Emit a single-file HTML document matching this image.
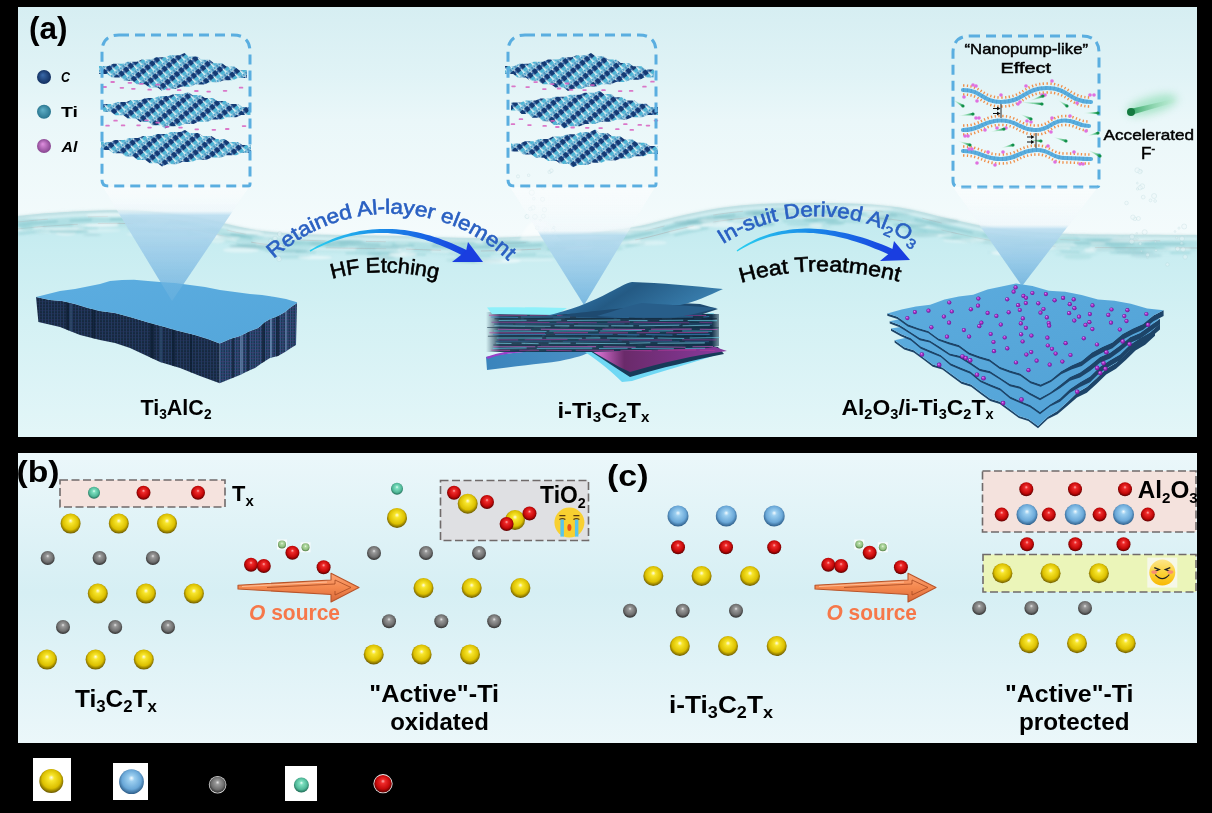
<!DOCTYPE html>
<html><head><meta charset="utf-8"><style>html,body{margin:0;padding:0;background:#000;}svg{display:block;} text{font-family:"Liberation Sans",sans-serif;}</style></head>
<body><svg width="1212" height="813" viewBox="0 0 1212 813">
<defs><radialGradient id="bY" cx="50%" cy="45%" r="55%" fx="50%" fy="35%"><stop offset="0" stop-color="#fffde8"/><stop offset="0.22" stop-color="#f8e62c"/><stop offset="0.7" stop-color="#dcc000"/><stop offset="1" stop-color="#6a5800"/></radialGradient><radialGradient id="bG" cx="50%" cy="45%" r="55%" fx="50%" fy="35%"><stop offset="0" stop-color="#e8e8e8"/><stop offset="0.22" stop-color="#9a9a9a"/><stop offset="0.7" stop-color="#6e6e6e"/><stop offset="1" stop-color="#2e2e2e"/></radialGradient><radialGradient id="bR" cx="50%" cy="45%" r="55%" fx="50%" fy="35%"><stop offset="0" stop-color="#ffb0b0"/><stop offset="0.22" stop-color="#ee2a2a"/><stop offset="0.7" stop-color="#c40808"/><stop offset="1" stop-color="#5a0000"/></radialGradient><radialGradient id="bB" cx="50%" cy="45%" r="55%" fx="50%" fy="35%"><stop offset="0" stop-color="#f4fbff"/><stop offset="0.22" stop-color="#9ccff0"/><stop offset="0.7" stop-color="#6aa8d8"/><stop offset="1" stop-color="#2c5c88"/></radialGradient><radialGradient id="bT" cx="50%" cy="45%" r="55%" fx="50%" fy="35%"><stop offset="0" stop-color="#f0fff8"/><stop offset="0.22" stop-color="#7ee0c0"/><stop offset="0.7" stop-color="#50b898"/><stop offset="1" stop-color="#1e6a54"/></radialGradient><radialGradient id="bL" cx="50%" cy="45%" r="55%" fx="50%" fy="35%"><stop offset="0" stop-color="#f4fff0"/><stop offset="0.22" stop-color="#b8dca8"/><stop offset="0.7" stop-color="#90c080"/><stop offset="1" stop-color="#507a44"/></radialGradient><linearGradient id="skyA" gradientUnits="userSpaceOnUse" x1="0" y1="7" x2="0" y2="235">
<stop offset="0" stop-color="#d6eef2"/><stop offset="0.3" stop-color="#e0f3f6"/><stop offset="0.5" stop-color="#eaf7f9"/><stop offset="1" stop-color="#f4fbfc"/></linearGradient><linearGradient id="seaA" gradientUnits="userSpaceOnUse" x1="0" y1="205" x2="0" y2="437">
<stop offset="0" stop-color="#c0e9ee"/><stop offset="0.2" stop-color="#c9edf1"/><stop offset="0.5" stop-color="#d4f1f4"/><stop offset="1" stop-color="#e3f6f8"/></linearGradient><linearGradient id="bgB" x1="0" y1="0" x2="0" y2="1">
<stop offset="0" stop-color="#ebf7fa"/><stop offset="0.48" stop-color="#d6eff4"/><stop offset="1" stop-color="#ebf7fa"/></linearGradient><linearGradient id="cone" x1="0" y1="0" x2="0" y2="1">
<stop offset="0" stop-color="#ffffff" stop-opacity="0.35"/><stop offset="0.35" stop-color="#e6f2f8" stop-opacity="0.5"/>
<stop offset="0.45" stop-color="#b8dcee" stop-opacity="0.8"/><stop offset="1" stop-color="#7fbde2" stop-opacity="0.95"/></linearGradient><linearGradient id="arrG" x1="0" y1="0" x2="1" y2="0">
<stop offset="0" stop-color="#2ad0f0"/><stop offset="0.45" stop-color="#1a8ae8"/><stop offset="1" stop-color="#1838e0"/></linearGradient><linearGradient id="slabTop" x1="0" y1="0" x2="1" y2="1">
<stop offset="0" stop-color="#5cade0"/><stop offset="1" stop-color="#54a6da"/></linearGradient><pattern id="latt" width="12" height="6" patternUnits="userSpaceOnUse" patternTransform="rotate(50)">
<rect width="12" height="6" fill="#e4f2f6"/><rect x="0" y="0" width="5.6" height="4.6" fill="#143a74"/><rect x="5.2" y="0" width="3.4" height="4.4" fill="#4cb6d6"/>
<rect x="8.6" y="0.6" width="3.4" height="3" fill="#4c96c0"/><rect x="1.5" y="4.4" width="2.2" height="1.6" fill="#2a62a8"/><rect x="9" y="4.4" width="2.5" height="1.6" fill="#3a9ac8"/></pattern><pattern id="slabSide" width="3" height="3" patternUnits="userSpaceOnUse">
<rect width="3" height="3" fill="#16283f"/><rect width="1" height="3" fill="#1f3a5c"/><rect y="1.5" width="3" height="0.6" fill="#2a3460"/></pattern><pattern id="slabSide2" width="2.5" height="3" patternUnits="userSpaceOnUse">
<rect width="2.5" height="3" fill="#1c3452"/><rect width="0.9" height="3" fill="#2e5a84"/><rect y="1.5" width="2.5" height="0.6" fill="#4a3e7a"/></pattern><filter id="blur1" x="-5%" y="-50%" width="110%" height="200%"><feGaussianBlur stdDeviation="1.2"/></filter><filter id="blur2" x="-5%" y="-50%" width="110%" height="200%"><feGaussianBlur stdDeviation="2.5"/></filter><clipPath id="clipA"><rect x="18" y="7" width="1179" height="430"/></clipPath><linearGradient id="cn1" gradientUnits="userSpaceOnUse" x1="0" y1="187" x2="0" y2="301">
<stop offset="0" stop-color="#ffffff" stop-opacity="0.45"/><stop offset="0.208" stop-color="#eef6fa" stop-opacity="0.55"/>
<stop offset="0.248" stop-color="#b9dcef" stop-opacity="0.85"/><stop offset="1" stop-color="#78b8e0" stop-opacity="1"/></linearGradient><linearGradient id="cn2" gradientUnits="userSpaceOnUse" x1="0" y1="187" x2="0" y2="305">
<stop offset="0" stop-color="#ffffff" stop-opacity="0.45"/><stop offset="0.370" stop-color="#eef6fa" stop-opacity="0.55"/>
<stop offset="0.410" stop-color="#b9dcef" stop-opacity="0.85"/><stop offset="1" stop-color="#78b8e0" stop-opacity="1"/></linearGradient><linearGradient id="cn3" gradientUnits="userSpaceOnUse" x1="0" y1="187" x2="0" y2="286">
<stop offset="0" stop-color="#ffffff" stop-opacity="0.45"/><stop offset="0.384" stop-color="#eef6fa" stop-opacity="0.55"/>
<stop offset="0.424" stop-color="#b9dcef" stop-opacity="0.85"/><stop offset="1" stop-color="#78b8e0" stop-opacity="1"/></linearGradient><linearGradient id="cg1" gradientUnits="userSpaceOnUse" x1="952" y1="99" x2="963" y2="106"><stop offset="0" stop-color="#d8f4e0" stop-opacity="0.2"/><stop offset="0.6" stop-color="#70d098" stop-opacity="0.8"/><stop offset="1" stop-color="#129048"/></linearGradient><linearGradient id="cg2" gradientUnits="userSpaceOnUse" x1="958" y1="116" x2="973" y2="114"><stop offset="0" stop-color="#d8f4e0" stop-opacity="0.2"/><stop offset="0.6" stop-color="#70d098" stop-opacity="0.8"/><stop offset="1" stop-color="#129048"/></linearGradient><linearGradient id="cg3" gradientUnits="userSpaceOnUse" x1="1019" y1="102" x2="1042" y2="104"><stop offset="0" stop-color="#d8f4e0" stop-opacity="0.2"/><stop offset="0.6" stop-color="#70d098" stop-opacity="0.8"/><stop offset="1" stop-color="#129048"/></linearGradient><linearGradient id="cg4" gradientUnits="userSpaceOnUse" x1="1029" y1="101" x2="1043" y2="96"><stop offset="0" stop-color="#d8f4e0" stop-opacity="0.2"/><stop offset="0.6" stop-color="#70d098" stop-opacity="0.8"/><stop offset="1" stop-color="#129048"/></linearGradient><linearGradient id="cg5" gradientUnits="userSpaceOnUse" x1="1058" y1="100" x2="1067" y2="106"><stop offset="0" stop-color="#d8f4e0" stop-opacity="0.2"/><stop offset="0.6" stop-color="#70d098" stop-opacity="0.8"/><stop offset="1" stop-color="#129048"/></linearGradient><linearGradient id="cg6" gradientUnits="userSpaceOnUse" x1="1083" y1="113" x2="1098" y2="113"><stop offset="0" stop-color="#d8f4e0" stop-opacity="0.2"/><stop offset="0.6" stop-color="#70d098" stop-opacity="0.8"/><stop offset="1" stop-color="#129048"/></linearGradient><linearGradient id="cg7" gradientUnits="userSpaceOnUse" x1="1020" y1="114" x2="1031" y2="119"><stop offset="0" stop-color="#d8f4e0" stop-opacity="0.2"/><stop offset="0.6" stop-color="#70d098" stop-opacity="0.8"/><stop offset="1" stop-color="#129048"/></linearGradient><linearGradient id="cg8" gradientUnits="userSpaceOnUse" x1="990" y1="132" x2="1004" y2="129"><stop offset="0" stop-color="#d8f4e0" stop-opacity="0.2"/><stop offset="0.6" stop-color="#70d098" stop-opacity="0.8"/><stop offset="1" stop-color="#129048"/></linearGradient><linearGradient id="cg9" gradientUnits="userSpaceOnUse" x1="1053" y1="137" x2="1066" y2="141"><stop offset="0" stop-color="#d8f4e0" stop-opacity="0.2"/><stop offset="0.6" stop-color="#70d098" stop-opacity="0.8"/><stop offset="1" stop-color="#129048"/></linearGradient><linearGradient id="cg10" gradientUnits="userSpaceOnUse" x1="1087" y1="136" x2="1098" y2="133"><stop offset="0" stop-color="#d8f4e0" stop-opacity="0.2"/><stop offset="0.6" stop-color="#70d098" stop-opacity="0.8"/><stop offset="1" stop-color="#129048"/></linearGradient><linearGradient id="cg11" gradientUnits="userSpaceOnUse" x1="1028" y1="140" x2="1041" y2="141"><stop offset="0" stop-color="#d8f4e0" stop-opacity="0.2"/><stop offset="0.6" stop-color="#70d098" stop-opacity="0.8"/><stop offset="1" stop-color="#129048"/></linearGradient><linearGradient id="cg12" gradientUnits="userSpaceOnUse" x1="958" y1="141" x2="970" y2="145"><stop offset="0" stop-color="#d8f4e0" stop-opacity="0.2"/><stop offset="0.6" stop-color="#70d098" stop-opacity="0.8"/><stop offset="1" stop-color="#129048"/></linearGradient><linearGradient id="cg13" gradientUnits="userSpaceOnUse" x1="1001" y1="148" x2="1013" y2="145"><stop offset="0" stop-color="#d8f4e0" stop-opacity="0.2"/><stop offset="0.6" stop-color="#70d098" stop-opacity="0.8"/><stop offset="1" stop-color="#129048"/></linearGradient><linearGradient id="cg14" gradientUnits="userSpaceOnUse" x1="1088" y1="150" x2="1100" y2="156"><stop offset="0" stop-color="#d8f4e0" stop-opacity="0.2"/><stop offset="0.6" stop-color="#70d098" stop-opacity="0.8"/><stop offset="1" stop-color="#129048"/></linearGradient><linearGradient id="comG" x1="0" y1="0" x2="1" y2="0">
<stop offset="0" stop-color="#1a9a50"/><stop offset="1" stop-color="#c8f0d8" stop-opacity="0.2"/></linearGradient><filter id="blur3" x="-50%" y="-100%" width="200%" height="300%"><feGaussianBlur stdDeviation="4"/></filter><clipPath id="s1l"><path d="M36,297 L50,300 L62,301 L75,304 L88,308 L100,311 L115,313 L130,317 L150,323 L165,327 L175,330 L195,335 L208,339 L219.7,343.5 L219.7,383.2 L200,376 L180,368 L160,362 L145,355 L130,348 L115,343 L100,340 L80,335 L70,331 L60,327 L38.4,322 Z"/></clipPath><clipPath id="s1r"><path d="M219.7,343.5 L230,339 L240,336 L250,331 L258,328 L265,322 L270,319 L278,316 L285,312 L291,307 L297,303 L296,345 L291,348 L285,352 L278,356 L270,358 L262,363 L255,368 L248,371 L240,375 L230,379 L219.7,383.2 Z"/></clipPath><linearGradient id="s2top" x1="0" y1="0" x2="1" y2="0.3"><stop offset="0" stop-color="#3a8cc8"/><stop offset="0.5" stop-color="#245a84"/><stop offset="1" stop-color="#3a80b0"/></linearGradient>
<linearGradient id="s2mag" x1="0" y1="0" x2="1" y2="0"><stop offset="0" stop-color="#f484ec"/><stop offset="0.25" stop-color="#6a2a6a"/><stop offset="1" stop-color="#8a3aa0"/></linearGradient>
<linearGradient id="s2bl" x1="0" y1="0" x2="1" y2="0"><stop offset="0" stop-color="#3a84bc"/><stop offset="1" stop-color="#4a90c4"/></linearGradient><linearGradient id="s2st" x1="0" y1="0" x2="1" y2="0"><stop offset="0" stop-color="#15334c" stop-opacity="0"/><stop offset="0.06" stop-color="#15334c" stop-opacity="0.9"/><stop offset="0.97" stop-color="#15334c" stop-opacity="1"/><stop offset="1" stop-color="#15334c" stop-opacity="0.5"/></linearGradient><radialGradient id="pd" cx="50%" cy="50%" r="50%" fx="35%" fy="30%"><stop offset="0" stop-color="#f0a0ff"/><stop offset="0.4" stop-color="#b03cd0"/><stop offset="1" stop-color="#6a1090"/></radialGradient>
<linearGradient id="s3top" x1="0" y1="0" x2="1" y2="1"><stop offset="0" stop-color="#5cacde"/><stop offset="1" stop-color="#52a2d6"/></linearGradient><path id="arc1" d="M273.8,258.9 A171.5,171.5 0 0 1 516.3,269.2"/><path id="arc2" d="M722.9,244.2 A174.7,174.7 0 0 1 928.6,256.2"/><path id="arc3" d="M332,279 Q381,265 441,280"/><path id="arc4" d="M741,283 Q818,260 900,282"/><radialGradient id="lgC" cx="50%" cy="50%" r="55%" fx="40%" fy="35%"><stop offset="0" stop-color="#3a6aaa"/><stop offset="1" stop-color="#0e2a5a"/></radialGradient><radialGradient id="lgT" cx="50%" cy="50%" r="55%" fx="40%" fy="35%"><stop offset="0" stop-color="#60b0c8"/><stop offset="1" stop-color="#24708a"/></radialGradient><radialGradient id="lgA" cx="50%" cy="50%" r="55%" fx="40%" fy="35%"><stop offset="0" stop-color="#e090e0"/><stop offset="1" stop-color="#80408a"/></radialGradient><linearGradient id="oarr" x1="0" y1="0" x2="0" y2="1"><stop offset="0" stop-color="#fca478"/><stop offset="0.5" stop-color="#f4884e"/><stop offset="1" stop-color="#d8683a"/></linearGradient><linearGradient id="smg" x1="0" y1="0" x2="0" y2="1"><stop offset="0" stop-color="#fde68a"/><stop offset="0.5" stop-color="#fbd23a"/><stop offset="1" stop-color="#f8b800"/></linearGradient></defs>
<rect width="1212" height="813" fill="#000"/>
<rect x="18" y="7" width="1179" height="430" fill="url(#skyA)"/>
<path d="M18,216 C23.3,215.5 36.3,213.9 50,213 C63.7,212.1 83.3,210.8 100,210.5 C116.7,210.2 133.3,210.2 150,211.5 C166.7,212.8 183.3,215.1 200,218 C216.7,220.9 233.3,226.3 250,229 C266.7,231.7 275.0,232.8 300,234 C325.0,235.2 370.0,235.3 400,236 C430.0,236.7 453.3,238.2 480,238 C506.7,237.8 540.0,236.0 560,235 C580.0,234.0 586.7,233.5 600,232 C613.3,230.5 626.7,228.7 640,226 C653.3,223.3 666.7,219.0 680,216 C693.3,213.0 706.7,210.0 720,208 C733.3,206.0 746.7,204.8 760,204 C773.3,203.2 785.0,203.1 800,203 C815.0,202.9 833.3,202.8 850,203.5 C866.7,204.2 883.3,204.9 900,207.5 C916.7,210.1 933.3,215.4 950,219 C966.7,222.6 983.3,226.7 1000,229 C1016.7,231.3 1033.3,232.1 1050,233 C1066.7,233.9 1075.5,234.2 1100,234.5 C1124.5,234.8 1180.8,234.9 1197,235 L1197,437 L18,437 Z" fill="url(#seaA)"/>
<g clip-path="url(#clipA)"><path d="M18,225 C23.3,224.5 36.3,222.9 50,222 C63.7,221.1 83.3,219.8 100,219.5 C116.7,219.2 133.3,219.2 150,220.5 C166.7,221.8 183.3,224.1 200,227 C216.7,229.9 233.3,235.3 250,238 C266.7,240.7 275.0,241.8 300,243 C325.0,244.2 370.0,244.3 400,245 C430.0,245.7 453.3,247.2 480,247 C506.7,246.8 540.0,245.0 560,244 C580.0,243.0 586.7,242.5 600,241 C613.3,239.5 626.7,237.7 640,235 C653.3,232.3 666.7,228.0 680,225 C693.3,222.0 706.7,219.0 720,217 C733.3,215.0 746.7,213.8 760,213 C773.3,212.2 785.0,212.1 800,212 C815.0,211.9 833.3,211.8 850,212.5 C866.7,213.2 883.3,213.9 900,216.5 C916.7,219.1 933.3,224.4 950,228 C966.7,231.6 983.3,235.7 1000,238 C1016.7,240.3 1033.3,241.1 1050,242 C1066.7,242.9 1075.5,243.2 1100,243.5 C1124.5,243.8 1180.8,243.9 1197,244" fill="none" stroke="#a0d6da" stroke-width="14" opacity="0.5" filter="url(#blur2)"/><path d="M18,217 C23.3,216.5 36.3,214.9 50,214 C63.7,213.1 83.3,211.8 100,211.5 C116.7,211.2 133.3,211.2 150,212.5 C166.7,213.8 183.3,216.1 200,219 C216.7,221.9 233.3,227.3 250,230 C266.7,232.7 275.0,233.8 300,235 C325.0,236.2 370.0,236.3 400,237 C430.0,237.7 453.3,239.2 480,239 C506.7,238.8 540.0,237.0 560,236 C580.0,235.0 586.7,234.5 600,233 C613.3,231.5 626.7,229.7 640,227 C653.3,224.3 666.7,220.0 680,217 C693.3,214.0 706.7,211.0 720,209 C733.3,207.0 746.7,205.8 760,205 C773.3,204.2 785.0,204.1 800,204 C815.0,203.9 833.3,203.8 850,204.5 C866.7,205.2 883.3,205.9 900,208.5 C916.7,211.1 933.3,216.4 950,220 C966.7,223.6 983.3,227.7 1000,230 C1016.7,232.3 1033.3,233.1 1050,234 C1066.7,234.9 1075.5,235.2 1100,235.5 C1124.5,235.8 1180.8,235.9 1197,236" fill="none" stroke="#c4d8da" stroke-width="2" opacity="0.7" filter="url(#blur1)"/><path d="M18,229 C23.3,228.5 36.3,226.9 50,226 C63.7,225.1 83.3,223.8 100,223.5 C116.7,223.2 133.3,223.2 150,224.5 C166.7,225.8 183.3,228.1 200,231 C216.7,233.9 233.3,239.3 250,242 C266.7,244.7 275.0,245.8 300,247 C325.0,248.2 370.0,248.3 400,249 C430.0,249.7 453.3,251.2 480,251 C506.7,250.8 540.0,249.0 560,248 C580.0,247.0 586.7,246.5 600,245 C613.3,243.5 626.7,241.7 640,239 C653.3,236.3 666.7,232.0 680,229 C693.3,226.0 706.7,223.0 720,221 C733.3,219.0 746.7,217.8 760,217 C773.3,216.2 785.0,216.1 800,216 C815.0,215.9 833.3,215.8 850,216.5 C866.7,217.2 883.3,217.9 900,220.5 C916.7,223.1 933.3,228.4 950,232 C966.7,235.6 983.3,239.7 1000,242 C1016.7,244.3 1033.3,245.1 1050,246 C1066.7,246.9 1075.5,247.2 1100,247.5 C1124.5,247.8 1180.8,247.9 1197,248" fill="none" stroke="#a89494" stroke-width="1" opacity="0.35" stroke-dasharray="60 20 35 40"/><path d="M18,220 C23.3,219.5 36.3,217.9 50,217 C63.7,216.1 83.3,214.8 100,214.5 C116.7,214.2 133.3,214.2 150,215.5 C166.7,216.8 183.3,219.1 200,222 C216.7,224.9 233.3,230.3 250,233 C266.7,235.7 275.0,236.8 300,238 C325.0,239.2 370.0,239.3 400,240 C430.0,240.7 453.3,242.2 480,242 C506.7,241.8 540.0,240.0 560,239 C580.0,238.0 586.7,237.5 600,236 C613.3,234.5 626.7,232.7 640,230 C653.3,227.3 666.7,223.0 680,220 C693.3,217.0 706.7,214.0 720,212 C733.3,210.0 746.7,208.8 760,208 C773.3,207.2 785.0,207.1 800,207 C815.0,206.9 833.3,206.8 850,207.5 C866.7,208.2 883.3,208.9 900,211.5 C916.7,214.1 933.3,219.4 950,223 C966.7,226.6 983.3,230.7 1000,233 C1016.7,235.3 1033.3,236.1 1050,237 C1066.7,237.9 1075.5,238.2 1100,238.5 C1124.5,238.8 1180.8,238.9 1197,239" fill="none" stroke="#e8f6f8" stroke-width="2.5" opacity="0.7" filter="url(#blur1)"/><path d="M18,225 C23.3,224.5 36.3,222.9 50,222 C63.7,221.1 83.3,219.8 100,219.5 C116.7,219.2 133.3,219.2 150,220.5 C166.7,221.8 183.3,224.1 200,227 C216.7,229.9 233.3,235.3 250,238 C266.7,240.7 275.0,241.8 300,243 C325.0,244.2 370.0,244.3 400,245 C430.0,245.7 453.3,247.2 480,247 C506.7,246.8 540.0,245.0 560,244 C580.0,243.0 586.7,242.5 600,241 C613.3,239.5 626.7,237.7 640,235 C653.3,232.3 666.7,228.0 680,225 C693.3,222.0 706.7,219.0 720,217 C733.3,215.0 746.7,213.8 760,213 C773.3,212.2 785.0,212.1 800,212 C815.0,211.9 833.3,211.8 850,212.5 C866.7,213.2 883.3,213.9 900,216.5 C916.7,219.1 933.3,224.4 950,228 C966.7,231.6 983.3,235.7 1000,238 C1016.7,240.3 1033.3,241.1 1050,242 C1066.7,242.9 1075.5,243.2 1100,243.5 C1124.5,243.8 1180.8,243.9 1197,244" fill="none" stroke="#7cbfc6" stroke-width="2" opacity="0.55" stroke-dasharray="40 12 22 18 60 10" filter="url(#blur1)"/><path d="M18,230 C23.3,229.5 36.3,227.9 50,227 C63.7,226.1 83.3,224.8 100,224.5 C116.7,224.2 133.3,224.2 150,225.5 C166.7,226.8 183.3,229.1 200,232 C216.7,234.9 233.3,240.3 250,243 C266.7,245.7 275.0,246.8 300,248 C325.0,249.2 370.0,249.3 400,250 C430.0,250.7 453.3,252.2 480,252 C506.7,251.8 540.0,250.0 560,249 C580.0,248.0 586.7,247.5 600,246 C613.3,244.5 626.7,242.7 640,240 C653.3,237.3 666.7,233.0 680,230 C693.3,227.0 706.7,224.0 720,222 C733.3,220.0 746.7,218.8 760,218 C773.3,217.2 785.0,217.1 800,217 C815.0,216.9 833.3,216.8 850,217.5 C866.7,218.2 883.3,218.9 900,221.5 C916.7,224.1 933.3,229.4 950,233 C966.7,236.6 983.3,240.7 1000,243 C1016.7,245.3 1033.3,246.1 1050,247 C1066.7,247.9 1075.5,248.2 1100,248.5 C1124.5,248.8 1180.8,248.9 1197,249" fill="none" stroke="#ffffff" stroke-width="2" opacity="0.5" stroke-dasharray="25 30 45 20" filter="url(#blur1)"/><path d="M18,234 C23.3,233.5 36.3,231.9 50,231 C63.7,230.1 83.3,228.8 100,228.5 C116.7,228.2 133.3,228.2 150,229.5 C166.7,230.8 183.3,233.1 200,236 C216.7,238.9 233.3,244.3 250,247 C266.7,249.7 275.0,250.8 300,252 C325.0,253.2 370.0,253.3 400,254 C430.0,254.7 453.3,256.2 480,256 C506.7,255.8 540.0,254.0 560,253 C580.0,252.0 586.7,251.5 600,250 C613.3,248.5 626.7,246.7 640,244 C653.3,241.3 666.7,237.0 680,234 C693.3,231.0 706.7,228.0 720,226 C733.3,224.0 746.7,222.8 760,222 C773.3,221.2 785.0,221.1 800,221 C815.0,220.9 833.3,220.8 850,221.5 C866.7,222.2 883.3,222.9 900,225.5 C916.7,228.1 933.3,233.4 950,237 C966.7,240.6 983.3,244.7 1000,247 C1016.7,249.3 1033.3,250.1 1050,251 C1066.7,251.9 1075.5,252.2 1100,252.5 C1124.5,252.8 1180.8,252.9 1197,253" fill="none" stroke="#86c8ce" stroke-width="2" opacity="0.45" stroke-dasharray="35 25 20 30" filter="url(#blur1)"/><path d="M18,222 C23.3,221.5 36.3,219.9 50,219 C63.7,218.1 83.3,216.8 100,216.5 C116.7,216.2 133.3,216.2 150,217.5 C166.7,218.8 183.3,221.1 200,224 C216.7,226.9 233.3,232.3 250,235 C266.7,237.7 275.0,238.8 300,240 C325.0,241.2 370.0,241.3 400,242 C430.0,242.7 453.3,244.2 480,244 C506.7,243.8 540.0,242.0 560,241 C580.0,240.0 586.7,239.5 600,238 C613.3,236.5 626.7,234.7 640,232 C653.3,229.3 666.7,225.0 680,222 C693.3,219.0 706.7,216.0 720,214 C733.3,212.0 746.7,210.8 760,210 C773.3,209.2 785.0,209.1 800,209 C815.0,208.9 833.3,208.8 850,209.5 C866.7,210.2 883.3,210.9 900,213.5 C916.7,216.1 933.3,221.4 950,225 C966.7,228.6 983.3,232.7 1000,235 C1016.7,237.3 1033.3,238.1 1050,239 C1066.7,239.9 1075.5,240.2 1100,240.5 C1124.5,240.8 1180.8,240.9 1197,241" fill="none" stroke="#b89a9a" stroke-width="0.8" opacity="0.3" stroke-dasharray="30 40 20 50"/><g filter="url(#blur1)"><ellipse cx="212" cy="238.2" rx="19" ry="1.8" fill="#8fcfd4" opacity="0.60"/><ellipse cx="578" cy="256.9" rx="10" ry="1.8" fill="#7ec2c8" opacity="0.25"/><ellipse cx="1118" cy="246.6" rx="9" ry="2.2" fill="#8fcfd4" opacity="0.49"/><ellipse cx="533" cy="259.9" rx="21" ry="1.7" fill="#ffffff" opacity="0.26"/><ellipse cx="406" cy="249.6" rx="8" ry="2.5" fill="#ffffff" opacity="0.26"/><ellipse cx="892" cy="211.7" rx="22" ry="1.0" fill="#8fcfd4" opacity="0.44"/><ellipse cx="422" cy="249.7" rx="10" ry="1.1" fill="#8fcfd4" opacity="0.28"/><ellipse cx="251" cy="246.2" rx="22" ry="2.1" fill="#6aaab2" opacity="0.35"/><ellipse cx="102" cy="225.3" rx="17" ry="1.6" fill="#ffffff" opacity="0.57"/><ellipse cx="1064" cy="245.0" rx="13" ry="1.7" fill="#ffffff" opacity="0.36"/><ellipse cx="589" cy="241.4" rx="23" ry="1.3" fill="#a8dcdf" opacity="0.60"/><ellipse cx="603" cy="244.9" rx="17" ry="2.2" fill="#8fcfd4" opacity="0.45"/><ellipse cx="394" cy="259.5" rx="8" ry="2.1" fill="#a8dcdf" opacity="0.37"/><ellipse cx="1111" cy="244.8" rx="18" ry="1.5" fill="#7ec2c8" opacity="0.31"/><ellipse cx="1106" cy="241.2" rx="15" ry="1.3" fill="#7ec2c8" opacity="0.49"/><ellipse cx="1078" cy="257.0" rx="14" ry="2.6" fill="#a8dcdf" opacity="0.46"/><ellipse cx="1059" cy="246.6" rx="14" ry="1.4" fill="#8fcfd4" opacity="0.31"/><ellipse cx="100" cy="230.4" rx="21" ry="1.8" fill="#ffffff" opacity="0.27"/><ellipse cx="322" cy="243.5" rx="14" ry="1.3" fill="#7ec2c8" opacity="0.55"/><ellipse cx="779" cy="209.6" rx="9" ry="2.2" fill="#7ec2c8" opacity="0.34"/><ellipse cx="1149" cy="248.8" rx="21" ry="1.0" fill="#8fcfd4" opacity="0.56"/><ellipse cx="449" cy="243.5" rx="13" ry="2.2" fill="#ffffff" opacity="0.45"/><ellipse cx="1019" cy="240.0" rx="17" ry="1.4" fill="#a8dcdf" opacity="0.25"/><ellipse cx="826" cy="226.3" rx="6" ry="1.9" fill="#a8dcdf" opacity="0.34"/><ellipse cx="1145" cy="246.6" rx="20" ry="2.2" fill="#8fcfd4" opacity="0.30"/><ellipse cx="130" cy="216.1" rx="7" ry="1.7" fill="#8fcfd4" opacity="0.28"/><ellipse cx="158" cy="221.5" rx="12" ry="2.5" fill="#ffffff" opacity="0.42"/><ellipse cx="277" cy="238.2" rx="10" ry="1.6" fill="#a8dcdf" opacity="0.51"/><ellipse cx="911" cy="225.6" rx="16" ry="2.2" fill="#7ec2c8" opacity="0.53"/><ellipse cx="27" cy="227.9" rx="7" ry="2.2" fill="#8fcfd4" opacity="0.55"/><ellipse cx="293" cy="256.6" rx="18" ry="2.2" fill="#8fcfd4" opacity="0.39"/><ellipse cx="383" cy="257.6" rx="12" ry="1.8" fill="#6aaab2" opacity="0.25"/><ellipse cx="694" cy="227.7" rx="7" ry="2.0" fill="#ffffff" opacity="0.59"/><ellipse cx="384" cy="253.4" rx="17" ry="1.9" fill="#7ec2c8" opacity="0.47"/><ellipse cx="402" cy="243.3" rx="7" ry="2.1" fill="#ffffff" opacity="0.29"/><ellipse cx="108" cy="215.2" rx="22" ry="2.2" fill="#ffffff" opacity="0.43"/><ellipse cx="1135" cy="252.0" rx="20" ry="1.8" fill="#6aaab2" opacity="0.23"/><ellipse cx="491" cy="245.3" rx="7" ry="1.7" fill="#8fcfd4" opacity="0.35"/><ellipse cx="713" cy="220.9" rx="15" ry="2.3" fill="#ffffff" opacity="0.38"/><ellipse cx="592" cy="248.9" rx="25" ry="1.1" fill="#ffffff" opacity="0.31"/><ellipse cx="458" cy="253.1" rx="10" ry="1.7" fill="#a8dcdf" opacity="0.52"/><ellipse cx="806" cy="224.1" rx="20" ry="2.1" fill="#8fcfd4" opacity="0.42"/><ellipse cx="606" cy="240.5" rx="14" ry="1.8" fill="#a8dcdf" opacity="0.60"/><ellipse cx="26" cy="224.9" rx="12" ry="1.6" fill="#8fcfd4" opacity="0.28"/><ellipse cx="225" cy="237.4" rx="18" ry="1.6" fill="#a8dcdf" opacity="0.41"/><ellipse cx="146" cy="234.5" rx="20" ry="1.3" fill="#ffffff" opacity="0.38"/><ellipse cx="704" cy="218.2" rx="8" ry="1.0" fill="#6aaab2" opacity="0.20"/><ellipse cx="1015" cy="236.4" rx="20" ry="1.3" fill="#6aaab2" opacity="0.29"/><ellipse cx="862" cy="210.8" rx="14" ry="1.6" fill="#ffffff" opacity="0.47"/><ellipse cx="349" cy="241.6" rx="14" ry="1.4" fill="#8fcfd4" opacity="0.59"/><ellipse cx="272" cy="241.5" rx="19" ry="2.4" fill="#ffffff" opacity="0.26"/><ellipse cx="609" cy="234.5" rx="18" ry="2.1" fill="#8fcfd4" opacity="0.60"/><ellipse cx="1128" cy="240.8" rx="25" ry="1.3" fill="#ffffff" opacity="0.56"/><ellipse cx="454" cy="243.2" rx="22" ry="2.3" fill="#6aaab2" opacity="0.32"/><ellipse cx="382" cy="247.4" rx="24" ry="1.4" fill="#6aaab2" opacity="0.31"/><ellipse cx="1012" cy="252.4" rx="24" ry="1.0" fill="#6aaab2" opacity="0.16"/><ellipse cx="532" cy="256.5" rx="26" ry="2.1" fill="#8fcfd4" opacity="0.27"/><ellipse cx="979" cy="240.6" rx="18" ry="1.8" fill="#a8dcdf" opacity="0.37"/><ellipse cx="336" cy="245.1" rx="12" ry="2.0" fill="#7ec2c8" opacity="0.48"/><ellipse cx="238" cy="231.4" rx="23" ry="1.6" fill="#ffffff" opacity="0.27"/><ellipse cx="62" cy="225.8" rx="20" ry="2.0" fill="#8fcfd4" opacity="0.26"/><ellipse cx="292" cy="243.8" rx="11" ry="1.3" fill="#8fcfd4" opacity="0.50"/><ellipse cx="636" cy="231.2" rx="23" ry="1.3" fill="#7ec2c8" opacity="0.50"/><ellipse cx="733" cy="223.0" rx="19" ry="1.0" fill="#ffffff" opacity="0.42"/><ellipse cx="209" cy="240.9" rx="22" ry="2.5" fill="#a8dcdf" opacity="0.27"/><ellipse cx="821" cy="219.8" rx="18" ry="2.0" fill="#7ec2c8" opacity="0.59"/><ellipse cx="478" cy="260.7" rx="25" ry="2.3" fill="#7ec2c8" opacity="0.57"/><ellipse cx="222" cy="231.5" rx="7" ry="1.6" fill="#a8dcdf" opacity="0.31"/><ellipse cx="1115" cy="248.8" rx="24" ry="1.3" fill="#6aaab2" opacity="0.26"/><ellipse cx="932" cy="233.5" rx="24" ry="1.6" fill="#7ec2c8" opacity="0.33"/><ellipse cx="725" cy="217.9" rx="19" ry="2.4" fill="#6aaab2" opacity="0.18"/><ellipse cx="50" cy="224.9" rx="18" ry="1.0" fill="#a8dcdf" opacity="0.51"/><ellipse cx="893" cy="214.4" rx="17" ry="1.6" fill="#6aaab2" opacity="0.21"/><ellipse cx="208" cy="236.6" rx="18" ry="1.7" fill="#ffffff" opacity="0.51"/><ellipse cx="785" cy="211.7" rx="15" ry="1.6" fill="#ffffff" opacity="0.42"/><ellipse cx="66" cy="233.2" rx="10" ry="2.3" fill="#ffffff" opacity="0.46"/><ellipse cx="964" cy="240.4" rx="21" ry="2.6" fill="#ffffff" opacity="0.30"/><ellipse cx="57" cy="232.0" rx="23" ry="1.5" fill="#ffffff" opacity="0.32"/><ellipse cx="286" cy="251.0" rx="22" ry="1.8" fill="#7ec2c8" opacity="0.26"/><ellipse cx="1098" cy="240.2" rx="13" ry="1.6" fill="#6aaab2" opacity="0.28"/><ellipse cx="724" cy="225.2" rx="23" ry="2.2" fill="#ffffff" opacity="0.48"/><ellipse cx="884" cy="218.8" rx="8" ry="2.4" fill="#6aaab2" opacity="0.32"/><ellipse cx="1068" cy="238.2" rx="12" ry="2.0" fill="#8fcfd4" opacity="0.51"/><ellipse cx="1121" cy="239.8" rx="18" ry="2.0" fill="#6aaab2" opacity="0.19"/><ellipse cx="605" cy="249.3" rx="10" ry="2.1" fill="#ffffff" opacity="0.57"/><ellipse cx="634" cy="230.1" rx="23" ry="1.5" fill="#ffffff" opacity="0.49"/><ellipse cx="506" cy="242.6" rx="24" ry="2.0" fill="#7ec2c8" opacity="0.60"/><ellipse cx="292" cy="251.0" rx="16" ry="1.9" fill="#6aaab2" opacity="0.22"/><ellipse cx="768" cy="220.1" rx="13" ry="1.6" fill="#ffffff" opacity="0.47"/><ellipse cx="557" cy="248.9" rx="10" ry="2.3" fill="#7ec2c8" opacity="0.55"/><ellipse cx="1076" cy="254.5" rx="21" ry="2.4" fill="#a8dcdf" opacity="0.28"/><ellipse cx="596" cy="238.8" rx="22" ry="1.5" fill="#ffffff" opacity="0.35"/><ellipse cx="1155" cy="247.4" rx="10" ry="1.0" fill="#8fcfd4" opacity="0.55"/><ellipse cx="279" cy="237.2" rx="17" ry="1.2" fill="#ffffff" opacity="0.29"/><ellipse cx="164" cy="231.0" rx="10" ry="1.0" fill="#8fcfd4" opacity="0.33"/><ellipse cx="688" cy="222.6" rx="15" ry="2.3" fill="#6aaab2" opacity="0.29"/><ellipse cx="976" cy="235.6" rx="25" ry="2.3" fill="#a8dcdf" opacity="0.38"/><ellipse cx="943" cy="221.2" rx="16" ry="2.4" fill="#6aaab2" opacity="0.25"/><ellipse cx="63" cy="228.8" rx="22" ry="1.4" fill="#ffffff" opacity="0.50"/><ellipse cx="644" cy="231.5" rx="13" ry="2.1" fill="#a8dcdf" opacity="0.34"/><ellipse cx="1098" cy="243.6" rx="8" ry="1.9" fill="#ffffff" opacity="0.36"/><ellipse cx="953" cy="238.4" rx="9" ry="1.5" fill="#7ec2c8" opacity="0.34"/><ellipse cx="816" cy="225.2" rx="7" ry="2.2" fill="#ffffff" opacity="0.43"/><ellipse cx="143" cy="234.8" rx="10" ry="2.4" fill="#a8dcdf" opacity="0.32"/><ellipse cx="601" cy="241.3" rx="13" ry="1.3" fill="#7ec2c8" opacity="0.40"/><ellipse cx="254" cy="233.1" rx="10" ry="2.4" fill="#ffffff" opacity="0.25"/><ellipse cx="930" cy="235.2" rx="25" ry="1.4" fill="#ffffff" opacity="0.43"/><ellipse cx="461" cy="246.4" rx="18" ry="2.3" fill="#a8dcdf" opacity="0.38"/><ellipse cx="187" cy="227.0" rx="24" ry="2.0" fill="#ffffff" opacity="0.49"/><ellipse cx="928" cy="231.2" rx="25" ry="2.4" fill="#8fcfd4" opacity="0.50"/><ellipse cx="377" cy="250.3" rx="22" ry="2.3" fill="#a8dcdf" opacity="0.39"/><ellipse cx="756" cy="213.1" rx="11" ry="2.3" fill="#6aaab2" opacity="0.30"/><ellipse cx="290" cy="238.5" rx="6" ry="1.3" fill="#ffffff" opacity="0.59"/><ellipse cx="607" cy="248.7" rx="16" ry="2.6" fill="#a8dcdf" opacity="0.57"/><ellipse cx="467" cy="260.2" rx="21" ry="1.8" fill="#7ec2c8" opacity="0.30"/><ellipse cx="23" cy="220.5" rx="15" ry="2.2" fill="#7ec2c8" opacity="0.28"/><ellipse cx="404" cy="242.8" rx="18" ry="2.0" fill="#a8dcdf" opacity="0.35"/><ellipse cx="922" cy="235.6" rx="17" ry="1.4" fill="#7ec2c8" opacity="0.50"/><ellipse cx="1002" cy="252.8" rx="11" ry="2.0" fill="#ffffff" opacity="0.56"/><ellipse cx="331" cy="244.9" rx="17" ry="2.0" fill="#a8dcdf" opacity="0.37"/><ellipse cx="763" cy="224.1" rx="12" ry="2.3" fill="#7ec2c8" opacity="0.59"/><ellipse cx="69" cy="231.6" rx="20" ry="1.8" fill="#7ec2c8" opacity="0.53"/><ellipse cx="223" cy="238.0" rx="17" ry="2.4" fill="#ffffff" opacity="0.47"/><ellipse cx="217" cy="240.8" rx="8" ry="2.5" fill="#ffffff" opacity="0.39"/><ellipse cx="403" cy="254.3" rx="14" ry="2.3" fill="#ffffff" opacity="0.51"/><ellipse cx="878" cy="213.9" rx="12" ry="1.5" fill="#ffffff" opacity="0.52"/><ellipse cx="241" cy="250.2" rx="18" ry="2.4" fill="#ffffff" opacity="0.41"/><ellipse cx="835" cy="222.8" rx="10" ry="2.0" fill="#7ec2c8" opacity="0.56"/><ellipse cx="1093" cy="239.1" rx="20" ry="1.8" fill="#8fcfd4" opacity="0.54"/><ellipse cx="1090" cy="250.1" rx="6" ry="2.2" fill="#ffffff" opacity="0.43"/><ellipse cx="869" cy="208.1" rx="24" ry="2.4" fill="#ffffff" opacity="0.28"/><ellipse cx="498" cy="261.0" rx="23" ry="2.3" fill="#ffffff" opacity="0.51"/><ellipse cx="238" cy="235.6" rx="21" ry="1.4" fill="#7ec2c8" opacity="0.57"/><ellipse cx="186" cy="238.4" rx="19" ry="1.9" fill="#ffffff" opacity="0.39"/><ellipse cx="896" cy="217.9" rx="16" ry="2.5" fill="#a8dcdf" opacity="0.32"/><ellipse cx="301" cy="244.2" rx="12" ry="2.3" fill="#a8dcdf" opacity="0.44"/><ellipse cx="348" cy="242.0" rx="17" ry="1.5" fill="#6aaab2" opacity="0.30"/><ellipse cx="648" cy="242.8" rx="19" ry="2.5" fill="#ffffff" opacity="0.32"/><ellipse cx="230" cy="238.9" rx="25" ry="1.3" fill="#a8dcdf" opacity="0.31"/><ellipse cx="1000" cy="242.0" rx="18" ry="1.4" fill="#6aaab2" opacity="0.20"/><ellipse cx="1038" cy="248.6" rx="19" ry="1.2" fill="#ffffff" opacity="0.45"/><ellipse cx="92" cy="234.8" rx="9" ry="1.0" fill="#6aaab2" opacity="0.25"/><ellipse cx="959" cy="237.2" rx="19" ry="2.1" fill="#a8dcdf" opacity="0.55"/><ellipse cx="486" cy="253.8" rx="10" ry="1.3" fill="#a8dcdf" opacity="0.35"/><ellipse cx="462" cy="244.7" rx="19" ry="2.6" fill="#a8dcdf" opacity="0.47"/><ellipse cx="1029" cy="244.6" rx="18" ry="2.4" fill="#7ec2c8" opacity="0.48"/><ellipse cx="315" cy="257.5" rx="17" ry="1.8" fill="#ffffff" opacity="0.49"/><ellipse cx="1146" cy="242.7" rx="10" ry="1.5" fill="#8fcfd4" opacity="0.31"/><ellipse cx="703" cy="221.0" rx="17" ry="2.5" fill="#6aaab2" opacity="0.17"/><ellipse cx="1146" cy="255.5" rx="16" ry="2.4" fill="#6aaab2" opacity="0.19"/></g></g>
<rect x="18" y="453" width="1179" height="290" fill="url(#bgB)"/>
<g><circle cx="1131.7" cy="241.6" r="2.5" fill="#eef8fa" stroke="#a8ccd2" stroke-width="0.6" opacity="0.4"/><circle cx="1132.0" cy="236.6" r="2.5" fill="#eef8fa" stroke="#a8ccd2" stroke-width="0.6" opacity="0.4"/><circle cx="1147.7" cy="254.9" r="2.0" fill="#eef8fa" stroke="#a8ccd2" stroke-width="0.6" opacity="0.4"/><circle cx="1141.4" cy="251.1" r="1.0" fill="#eef8fa" stroke="#a8ccd2" stroke-width="0.6" opacity="0.4"/><circle cx="1134.8" cy="218.9" r="1.8" fill="#eef8fa" stroke="#a8ccd2" stroke-width="0.6" opacity="0.4"/><circle cx="1141.0" cy="171.2" r="1.2" fill="#eef8fa" stroke="#a8ccd2" stroke-width="0.6" opacity="0.4"/><circle cx="1137.1" cy="238.9" r="1.1" fill="#eef8fa" stroke="#a8ccd2" stroke-width="0.6" opacity="0.4"/><circle cx="1155.3" cy="241.7" r="1.0" fill="#eef8fa" stroke="#a8ccd2" stroke-width="0.6" opacity="0.4"/><circle cx="1137.3" cy="170.2" r="2.4" fill="#eef8fa" stroke="#a8ccd2" stroke-width="0.6" opacity="0.4"/><circle cx="1137.5" cy="188.9" r="1.2" fill="#eef8fa" stroke="#a8ccd2" stroke-width="0.6" opacity="0.4"/><circle cx="1154.1" cy="196.0" r="2.5" fill="#eef8fa" stroke="#a8ccd2" stroke-width="0.6" opacity="0.4"/><circle cx="1138.4" cy="218.5" r="2.0" fill="#eef8fa" stroke="#a8ccd2" stroke-width="0.6" opacity="0.4"/><circle cx="1144.7" cy="232.2" r="2.5" fill="#eef8fa" stroke="#a8ccd2" stroke-width="0.6" opacity="0.4"/><circle cx="1156.0" cy="250.4" r="1.3" fill="#eef8fa" stroke="#a8ccd2" stroke-width="0.6" opacity="0.4"/><circle cx="1137.3" cy="183.1" r="0.9" fill="#eef8fa" stroke="#a8ccd2" stroke-width="0.6" opacity="0.4"/><circle cx="1143.2" cy="197.1" r="1.9" fill="#eef8fa" stroke="#a8ccd2" stroke-width="0.6" opacity="0.4"/><circle cx="1150.5" cy="200.4" r="1.4" fill="#eef8fa" stroke="#a8ccd2" stroke-width="0.6" opacity="0.4"/><circle cx="1140.2" cy="243.7" r="1.7" fill="#eef8fa" stroke="#a8ccd2" stroke-width="0.6" opacity="0.4"/><circle cx="1136.8" cy="233.4" r="0.9" fill="#eef8fa" stroke="#a8ccd2" stroke-width="0.6" opacity="0.4"/><circle cx="1147.3" cy="257.8" r="0.8" fill="#eef8fa" stroke="#a8ccd2" stroke-width="0.6" opacity="0.4"/><circle cx="1140.0" cy="171.6" r="2.2" fill="#eef8fa" stroke="#a8ccd2" stroke-width="0.6" opacity="0.4"/><circle cx="1126.5" cy="203.0" r="1.8" fill="#eef8fa" stroke="#a8ccd2" stroke-width="0.6" opacity="0.4"/><circle cx="1142.2" cy="186.3" r="2.5" fill="#eef8fa" stroke="#a8ccd2" stroke-width="0.6" opacity="0.4"/><circle cx="1140.1" cy="187.7" r="2.2" fill="#eef8fa" stroke="#a8ccd2" stroke-width="0.6" opacity="0.4"/><circle cx="1155.1" cy="201.0" r="1.4" fill="#eef8fa" stroke="#a8ccd2" stroke-width="0.6" opacity="0.4"/><circle cx="1132.9" cy="217.2" r="2.2" fill="#eef8fa" stroke="#a8ccd2" stroke-width="0.6" opacity="0.4"/><circle cx="1185.2" cy="256.9" r="2.3" fill="#eef8fa" stroke="#a8ccd2" stroke-width="0.6" opacity="0.4"/><circle cx="1184.2" cy="226.5" r="2.5" fill="#eef8fa" stroke="#a8ccd2" stroke-width="0.6" opacity="0.4"/><circle cx="1183.1" cy="249.4" r="2.5" fill="#eef8fa" stroke="#a8ccd2" stroke-width="0.6" opacity="0.4"/><circle cx="1182.0" cy="238.6" r="2.5" fill="#eef8fa" stroke="#a8ccd2" stroke-width="0.6" opacity="0.4"/><circle cx="1176.7" cy="237.7" r="1.1" fill="#eef8fa" stroke="#a8ccd2" stroke-width="0.6" opacity="0.4"/><circle cx="1179.0" cy="228.1" r="1.1" fill="#eef8fa" stroke="#a8ccd2" stroke-width="0.6" opacity="0.4"/><circle cx="1175.0" cy="231.5" r="0.9" fill="#eef8fa" stroke="#a8ccd2" stroke-width="0.6" opacity="0.4"/><circle cx="1167.4" cy="264.5" r="1.8" fill="#eef8fa" stroke="#a8ccd2" stroke-width="0.6" opacity="0.4"/><circle cx="1177.6" cy="248.8" r="2.3" fill="#eef8fa" stroke="#a8ccd2" stroke-width="0.6" opacity="0.4"/><circle cx="1181.6" cy="243.2" r="1.6" fill="#eef8fa" stroke="#a8ccd2" stroke-width="0.6" opacity="0.4"/><circle cx="549.6" cy="172.0" r="1.7" fill="#eef8fa" stroke="#a8ccd2" stroke-width="0.6" opacity="0.4"/><circle cx="540.3" cy="220.3" r="1.0" fill="#eef8fa" stroke="#a8ccd2" stroke-width="0.6" opacity="0.4"/><circle cx="533.0" cy="207.8" r="2.2" fill="#eef8fa" stroke="#a8ccd2" stroke-width="0.6" opacity="0.4"/><circle cx="518.0" cy="176.4" r="1.6" fill="#eef8fa" stroke="#a8ccd2" stroke-width="0.6" opacity="0.4"/><circle cx="543.0" cy="187.7" r="1.6" fill="#eef8fa" stroke="#a8ccd2" stroke-width="0.6" opacity="0.4"/><circle cx="545.9" cy="230.0" r="2.3" fill="#eef8fa" stroke="#a8ccd2" stroke-width="0.6" opacity="0.4"/><circle cx="542.6" cy="199.3" r="2.1" fill="#eef8fa" stroke="#a8ccd2" stroke-width="0.6" opacity="0.4"/><circle cx="533.8" cy="198.7" r="1.3" fill="#eef8fa" stroke="#a8ccd2" stroke-width="0.6" opacity="0.4"/><circle cx="531.8" cy="192.6" r="2.6" fill="#eef8fa" stroke="#a8ccd2" stroke-width="0.6" opacity="0.4"/><circle cx="537.2" cy="227.6" r="1.9" fill="#eef8fa" stroke="#a8ccd2" stroke-width="0.6" opacity="0.4"/><circle cx="528.6" cy="175.3" r="1.3" fill="#eef8fa" stroke="#a8ccd2" stroke-width="0.6" opacity="0.4"/><circle cx="535.0" cy="216.9" r="2.4" fill="#eef8fa" stroke="#a8ccd2" stroke-width="0.6" opacity="0.4"/><circle cx="527.1" cy="216.5" r="2.1" fill="#eef8fa" stroke="#a8ccd2" stroke-width="0.6" opacity="0.4"/><circle cx="544.4" cy="209.8" r="2.2" fill="#eef8fa" stroke="#a8ccd2" stroke-width="0.6" opacity="0.4"/><circle cx="527.9" cy="186.9" r="1.7" fill="#eef8fa" stroke="#a8ccd2" stroke-width="0.6" opacity="0.4"/><circle cx="543.3" cy="216.2" r="2.0" fill="#eef8fa" stroke="#a8ccd2" stroke-width="0.6" opacity="0.4"/><circle cx="530.4" cy="209.0" r="1.8" fill="#eef8fa" stroke="#a8ccd2" stroke-width="0.6" opacity="0.4"/><circle cx="551.3" cy="170.7" r="1.8" fill="#eef8fa" stroke="#a8ccd2" stroke-width="0.6" opacity="0.4"/><circle cx="275.0" cy="238.5" r="2.3" fill="#eef8fa" stroke="#a8ccd2" stroke-width="0.6" opacity="0.4"/><circle cx="281.0" cy="245.9" r="2.2" fill="#eef8fa" stroke="#a8ccd2" stroke-width="0.6" opacity="0.4"/><circle cx="271.7" cy="249.5" r="2.3" fill="#eef8fa" stroke="#a8ccd2" stroke-width="0.6" opacity="0.4"/><circle cx="279.7" cy="234.0" r="2.3" fill="#eef8fa" stroke="#a8ccd2" stroke-width="0.6" opacity="0.4"/><circle cx="279.2" cy="259.0" r="2.5" fill="#eef8fa" stroke="#a8ccd2" stroke-width="0.6" opacity="0.4"/><circle cx="270.5" cy="240.7" r="1.8" fill="#eef8fa" stroke="#a8ccd2" stroke-width="0.6" opacity="0.4"/><circle cx="278.8" cy="257.5" r="1.7" fill="#eef8fa" stroke="#a8ccd2" stroke-width="0.6" opacity="0.4"/><circle cx="281.6" cy="247.7" r="2.1" fill="#eef8fa" stroke="#a8ccd2" stroke-width="0.6" opacity="0.4"/><circle cx="559.6" cy="239.5" r="1.8" fill="#eef8fa" stroke="#a8ccd2" stroke-width="0.6" opacity="0.4"/><circle cx="557.0" cy="237.6" r="1.6" fill="#eef8fa" stroke="#a8ccd2" stroke-width="0.6" opacity="0.4"/><circle cx="553.8" cy="237.2" r="2.1" fill="#eef8fa" stroke="#a8ccd2" stroke-width="0.6" opacity="0.4"/><circle cx="553.9" cy="227.4" r="1.1" fill="#eef8fa" stroke="#a8ccd2" stroke-width="0.6" opacity="0.4"/><circle cx="553.2" cy="230.5" r="2.0" fill="#eef8fa" stroke="#a8ccd2" stroke-width="0.6" opacity="0.4"/><circle cx="562.6" cy="237.1" r="0.9" fill="#eef8fa" stroke="#a8ccd2" stroke-width="0.6" opacity="0.4"/></g>
<path d="M520,240 C525,225 535,215 545,222 C552,228 556,236 560,240 Z" fill="#ffffff" opacity="0.45" filter="url(#blur1)"/>
<path d="M103,187 L249,187 L172,301 Z" fill="url(#cn1)"/>
<path d="M510,187 L655,187 L584,305 Z" fill="url(#cn2)"/>
<path d="M953,187 L1098,187 L1022,286 Z" fill="url(#cn3)"/>
<polygon points="99.0,66.0 108.3,66.0 113.2,63.8 122.5,63.8 127.5,61.7 136.8,61.7 141.8,59.5 151.0,59.5 156.0,57.3 165.3,57.3 170.2,55.2 179.5,55.2 184.5,53.0 188.9,56.4 197.0,56.4 201.4,59.8 209.5,59.8 213.9,63.2 222.0,63.2 226.4,66.6 234.5,66.6 238.9,70.0 247.0,70.0 247.0,78.0 237.8,78.0 232.8,80.2 223.6,80.2 218.7,82.3 209.5,82.3 204.5,84.5 195.3,84.5 190.3,86.7 181.1,86.7 176.2,88.8 167.0,88.8 162.0,91.0 157.6,87.6 149.4,87.6 145.0,84.2 136.8,84.2 132.4,80.8 124.2,80.8 119.8,77.4 111.6,77.4 107.2,74.0 99.0,74.0" fill="url(#latt)"/>
<polygon points="103.0,104.0 112.2,104.0 117.2,102.0 126.4,102.0 131.3,100.0 140.5,100.0 145.5,98.0 154.7,98.0 159.7,96.0 168.9,96.0 173.8,94.0 183.0,94.0 188.0,92.0 192.4,95.0 200.5,95.0 204.9,98.0 213.0,98.0 217.4,101.0 225.5,101.0 229.9,104.0 238.0,104.0 242.4,107.0 250.5,107.0 250.5,115.0 241.2,115.0 236.2,117.2 227.0,117.2 222.0,119.5 212.7,119.5 207.8,121.8 198.5,121.8 193.5,124.0 184.2,124.0 179.2,126.2 170.0,126.2 165.0,128.5 160.7,125.2 152.6,125.2 148.3,121.9 140.2,121.9 135.9,118.6 127.8,118.6 123.5,115.3 115.4,115.3 111.1,112.0 103.0,112.0" fill="url(#latt)"/>
<polygon points="101.0,142.0 110.1,142.0 115.0,140.0 124.1,140.0 129.0,138.0 138.1,138.0 143.0,136.0 152.1,136.0 157.0,134.0 166.1,134.0 171.0,132.0 180.1,132.0 185.0,130.0 189.6,133.0 198.2,133.0 202.8,136.0 211.4,136.0 216.0,139.0 224.6,139.0 229.2,142.0 237.8,142.0 242.4,145.0 251.0,145.0 251.0,153.0 241.4,153.0 236.2,155.2 226.5,155.2 221.3,157.5 211.7,157.5 206.5,159.8 196.9,159.8 191.7,162.0 182.0,162.0 176.8,164.2 167.2,164.2 162.0,166.5 157.7,163.2 149.8,163.2 145.5,159.9 137.6,159.9 133.3,156.6 125.4,156.6 121.1,153.3 113.2,153.3 108.9,150.0 101.0,150.0" fill="url(#latt)"/>
<rect x="102.4" y="86.1" width="4.5" height="1.8" rx="0.9" fill="#d860c0" opacity="0.85"/><rect x="110.4" y="81.1" width="4.5" height="1.8" rx="0.9" fill="#d860c0" opacity="0.85"/><rect x="119.6" y="86.9" width="4.5" height="1.8" rx="0.9" fill="#d860c0" opacity="0.85"/><rect x="127.6" y="81.9" width="4.5" height="1.8" rx="0.9" fill="#d860c0" opacity="0.85"/><rect x="131.1" y="87.9" width="4.5" height="1.8" rx="0.9" fill="#d860c0" opacity="0.85"/><rect x="139.1" y="82.9" width="4.5" height="1.8" rx="0.9" fill="#d860c0" opacity="0.85"/><rect x="147.4" y="88.8" width="4.5" height="1.8" rx="0.9" fill="#d860c0" opacity="0.85"/><rect x="155.4" y="83.8" width="4.5" height="1.8" rx="0.9" fill="#d860c0" opacity="0.85"/><rect x="166.0" y="88.4" width="4.5" height="1.8" rx="0.9" fill="#d860c0" opacity="0.85"/><rect x="176.9" y="89.3" width="4.5" height="1.8" rx="0.9" fill="#d860c0" opacity="0.85"/><rect x="194.1" y="90.1" width="4.5" height="1.8" rx="0.9" fill="#d860c0" opacity="0.85"/><rect x="206.4" y="90.7" width="4.5" height="1.8" rx="0.9" fill="#d860c0" opacity="0.85"/><rect x="222.8" y="89.9" width="4.5" height="1.8" rx="0.9" fill="#d860c0" opacity="0.85"/><rect x="238.8" y="86.8" width="4.5" height="1.8" rx="0.9" fill="#d860c0" opacity="0.85"/>
<rect x="105.3" y="124.8" width="4.5" height="1.8" rx="0.9" fill="#d860c0" opacity="0.85"/><rect x="113.3" y="119.8" width="4.5" height="1.8" rx="0.9" fill="#d860c0" opacity="0.85"/><rect x="120.8" y="124.5" width="4.5" height="1.8" rx="0.9" fill="#d860c0" opacity="0.85"/><rect x="136.3" y="124.4" width="4.5" height="1.8" rx="0.9" fill="#d860c0" opacity="0.85"/><rect x="144.3" y="119.4" width="4.5" height="1.8" rx="0.9" fill="#d860c0" opacity="0.85"/><rect x="147.3" y="126.7" width="4.5" height="1.8" rx="0.9" fill="#d860c0" opacity="0.85"/><rect x="155.3" y="121.7" width="4.5" height="1.8" rx="0.9" fill="#d860c0" opacity="0.85"/><rect x="164.8" y="126.0" width="4.5" height="1.8" rx="0.9" fill="#d860c0" opacity="0.85"/><rect x="178.3" y="126.7" width="4.5" height="1.8" rx="0.9" fill="#d860c0" opacity="0.85"/><rect x="194.5" y="128.4" width="4.5" height="1.8" rx="0.9" fill="#d860c0" opacity="0.85"/><rect x="211.6" y="128.9" width="4.5" height="1.8" rx="0.9" fill="#d860c0" opacity="0.85"/><rect x="225.0" y="128.1" width="4.5" height="1.8" rx="0.9" fill="#d860c0" opacity="0.85"/><rect x="241.8" y="125.2" width="4.5" height="1.8" rx="0.9" fill="#d860c0" opacity="0.85"/>
<polygon points="505.0,66.0 514.3,66.0 519.3,63.8 528.6,63.8 533.7,61.7 543.0,61.7 548.0,59.5 557.3,59.5 562.3,57.3 571.6,57.3 576.7,55.2 586.0,55.2 591.0,53.0 595.4,56.3 603.6,56.3 608.0,59.6 616.2,59.6 620.6,62.9 628.8,62.9 633.2,66.2 641.4,66.2 645.8,69.5 654.0,69.5 654.0,77.5 644.7,77.5 639.7,79.8 630.4,79.8 625.3,82.0 616.0,82.0 611.0,84.2 601.7,84.2 596.7,86.5 587.4,86.5 582.3,88.8 573.0,88.8 568.0,91.0 563.6,87.6 555.4,87.6 551.0,84.2 542.8,84.2 538.4,80.8 530.2,80.8 525.8,77.4 517.6,77.4 513.2,74.0 505.0,74.0" fill="url(#latt)"/>
<polygon points="511.0,102.5 520.6,102.5 525.8,100.5 535.3,100.5 540.5,98.6 550.1,98.6 555.2,96.7 564.8,96.7 570.0,94.7 579.6,94.7 584.8,92.8 594.3,92.8 599.5,90.8 603.6,94.0 611.2,94.0 615.3,97.3 622.9,97.3 627.0,100.5 634.6,100.5 638.7,103.8 646.3,103.8 650.4,107.0 658.0,107.0 658.0,115.0 647.8,115.0 642.3,117.2 632.1,117.2 626.7,119.5 616.5,119.5 611.0,121.8 600.8,121.8 595.3,124.0 585.1,124.0 579.7,126.2 569.5,126.2 564.0,128.5 560.3,124.9 553.4,124.9 549.7,121.3 542.8,121.3 539.1,117.7 532.2,117.7 528.5,114.1 521.6,114.1 517.9,110.5 511.0,110.5" fill="url(#latt)"/>
<polygon points="511.0,143.5 520.1,143.5 525.0,141.2 534.1,141.2 539.0,138.9 548.1,138.9 553.0,136.6 562.1,136.6 567.0,134.2 576.1,134.2 581.0,131.9 590.1,131.9 595.0,129.6 599.4,132.9 607.6,132.9 612.0,136.2 620.2,136.2 624.6,139.4 632.8,139.4 637.2,142.7 645.4,142.7 649.8,146.0 658.0,146.0 658.0,154.0 648.8,154.0 643.8,156.2 634.6,156.2 629.7,158.4 620.5,158.4 615.5,160.6 606.3,160.6 601.3,162.8 592.1,162.8 587.2,165.0 578.0,165.0 573.0,167.2 568.7,164.1 560.6,164.1 556.3,160.9 548.2,160.9 543.9,157.8 535.8,157.8 531.5,154.6 523.4,154.6 519.1,151.5 511.0,151.5" fill="url(#latt)"/>
<rect x="511.3" y="85.4" width="4.5" height="1.8" rx="0.9" fill="#d860c0" opacity="0.85"/><rect x="525.4" y="86.2" width="4.5" height="1.8" rx="0.9" fill="#d860c0" opacity="0.85"/><rect x="533.4" y="81.2" width="4.5" height="1.8" rx="0.9" fill="#d860c0" opacity="0.85"/><rect x="542.1" y="88.2" width="4.5" height="1.8" rx="0.9" fill="#d860c0" opacity="0.85"/><rect x="550.1" y="83.2" width="4.5" height="1.8" rx="0.9" fill="#d860c0" opacity="0.85"/><rect x="556.8" y="87.6" width="4.5" height="1.8" rx="0.9" fill="#d860c0" opacity="0.85"/><rect x="564.8" y="82.6" width="4.5" height="1.8" rx="0.9" fill="#d860c0" opacity="0.85"/><rect x="568.8" y="88.9" width="4.5" height="1.8" rx="0.9" fill="#d860c0" opacity="0.85"/><rect x="582.3" y="89.2" width="4.5" height="1.8" rx="0.9" fill="#d860c0" opacity="0.85"/><rect x="590.3" y="84.2" width="4.5" height="1.8" rx="0.9" fill="#d860c0" opacity="0.85"/><rect x="601.3" y="89.3" width="4.5" height="1.8" rx="0.9" fill="#d860c0" opacity="0.85"/><rect x="617.9" y="90.2" width="4.5" height="1.8" rx="0.9" fill="#d860c0" opacity="0.85"/><rect x="628.9" y="90.0" width="4.5" height="1.8" rx="0.9" fill="#d860c0" opacity="0.85"/><rect x="642.2" y="85.8" width="4.5" height="1.8" rx="0.9" fill="#d860c0" opacity="0.85"/><rect x="650.2" y="80.8" width="4.5" height="1.8" rx="0.9" fill="#d860c0" opacity="0.85"/>
<rect x="510.7" y="123.3" width="4.5" height="1.8" rx="0.9" fill="#d860c0" opacity="0.85"/><rect x="518.7" y="118.3" width="4.5" height="1.8" rx="0.9" fill="#d860c0" opacity="0.85"/><rect x="527.2" y="124.2" width="4.5" height="1.8" rx="0.9" fill="#d860c0" opacity="0.85"/><rect x="542.4" y="125.0" width="4.5" height="1.8" rx="0.9" fill="#d860c0" opacity="0.85"/><rect x="550.4" y="120.0" width="4.5" height="1.8" rx="0.9" fill="#d860c0" opacity="0.85"/><rect x="555.1" y="126.1" width="4.5" height="1.8" rx="0.9" fill="#d860c0" opacity="0.85"/><rect x="570.4" y="126.6" width="4.5" height="1.8" rx="0.9" fill="#d860c0" opacity="0.85"/><rect x="585.0" y="126.9" width="4.5" height="1.8" rx="0.9" fill="#d860c0" opacity="0.85"/><rect x="598.4" y="127.2" width="4.5" height="1.8" rx="0.9" fill="#d860c0" opacity="0.85"/><rect x="615.1" y="128.3" width="4.5" height="1.8" rx="0.9" fill="#d860c0" opacity="0.85"/><rect x="623.1" y="123.3" width="4.5" height="1.8" rx="0.9" fill="#d860c0" opacity="0.85"/><rect x="629.5" y="129.0" width="4.5" height="1.8" rx="0.9" fill="#d860c0" opacity="0.85"/><rect x="637.5" y="124.0" width="4.5" height="1.8" rx="0.9" fill="#d860c0" opacity="0.85"/><rect x="645.7" y="124.7" width="4.5" height="1.8" rx="0.9" fill="#d860c0" opacity="0.85"/><rect x="653.7" y="119.7" width="4.5" height="1.8" rx="0.9" fill="#d860c0" opacity="0.85"/>
<path d="M119,35 L233,35 Q250,35 250,52 L250,184 Q250,186 248,186 L108,186 Q102,186 102,180 L102,52 Q102,35 119,35 Z" fill="none" stroke="#5aaee0" stroke-width="3" stroke-dasharray="10 6"/>
<path d="M525,35 L639,35 Q656,35 656,52 L656,184 Q656,186 654,186 L514,186 Q508,186 508,180 L508,52 Q508,35 525,35 Z" fill="none" stroke="#5aaee0" stroke-width="3" stroke-dasharray="10 6"/>
<path d="M970,36 L1082,36 Q1099,36 1099,53 L1099,185 Q1099,187 1097,187 L959,187 Q953,187 953,181 L953,53 Q953,36 970,36 Z" fill="none" stroke="#5aaee0" stroke-width="3" stroke-dasharray="10 6"/>
<path d="M963,85.5 C982.0,85.5 982.0,97.5 1001,97.5 C1024.0,97.5 1024.0,83.5 1047,83.5 C1069.0,83.5 1069.0,97.5 1091,97.5" fill="none" stroke="#f0904a" stroke-width="2.6" stroke-dasharray="1.3 2.4"/>
<path d="M963,94.5 C982.0,94.5 982.0,106.5 1001,106.5 C1024.0,106.5 1024.0,92.5 1047,92.5 C1069.0,92.5 1069.0,106.5 1091,106.5" fill="none" stroke="#f0904a" stroke-width="2.6" stroke-dasharray="1.3 2.4"/>
<path d="M963,90 C982.0,90 982.0,102 1001,102 C1024.0,102 1024.0,88 1047,88 C1069.0,88 1069.0,102 1091,102" fill="none" stroke="#5aaede" stroke-width="4.2" stroke-linecap="round"/>
<path d="M963,90 C982.0,90 982.0,102 1001,102 C1024.0,102 1024.0,88 1047,88 C1069.0,88 1069.0,102 1091,102" fill="none" stroke="#3c8cc4" stroke-width="4.2" stroke-dasharray="0.6 3.4" opacity="0.6"/>
<path d="M963,125.5 C982.0,125.5 982.0,116.0 1001,116.0 C1018.5,116.0 1018.5,125.5 1036,125.5 C1050.5,125.5 1050.5,116.0 1065,116.0 C1077.0,116.0 1077.0,121.5 1089,121.5" fill="none" stroke="#f0904a" stroke-width="2.6" stroke-dasharray="1.3 2.4"/>
<path d="M963,134.5 C982.0,134.5 982.0,125.0 1001,125.0 C1018.5,125.0 1018.5,134.5 1036,134.5 C1050.5,134.5 1050.5,125.0 1065,125.0 C1077.0,125.0 1077.0,130.5 1089,130.5" fill="none" stroke="#f0904a" stroke-width="2.6" stroke-dasharray="1.3 2.4"/>
<path d="M963,130 C982.0,130 982.0,120.5 1001,120.5 C1018.5,120.5 1018.5,130 1036,130 C1050.5,130 1050.5,120.5 1065,120.5 C1077.0,120.5 1077.0,126 1089,126" fill="none" stroke="#5aaede" stroke-width="4.2" stroke-linecap="round"/>
<path d="M963,130 C982.0,130 982.0,120.5 1001,120.5 C1018.5,120.5 1018.5,130 1036,130 C1050.5,130 1050.5,120.5 1065,120.5 C1077.0,120.5 1077.0,126 1089,126" fill="none" stroke="#3c8cc4" stroke-width="4.2" stroke-dasharray="0.6 3.4" opacity="0.6"/>
<path d="M963,146.5 C982.0,146.5 982.0,154.5 1001,154.5 C1019.0,154.5 1019.0,145.5 1037,145.5 C1051.0,145.5 1051.0,153.5 1065,153.5 C1078.0,153.5 1078.0,154.5 1091,154.5" fill="none" stroke="#f0904a" stroke-width="2.6" stroke-dasharray="1.3 2.4"/>
<path d="M963,155.5 C982.0,155.5 982.0,163.5 1001,163.5 C1019.0,163.5 1019.0,154.5 1037,154.5 C1051.0,154.5 1051.0,162.5 1065,162.5 C1078.0,162.5 1078.0,163.5 1091,163.5" fill="none" stroke="#f0904a" stroke-width="2.6" stroke-dasharray="1.3 2.4"/>
<path d="M963,151 C982.0,151 982.0,159 1001,159 C1019.0,159 1019.0,150 1037,150 C1051.0,150 1051.0,158 1065,158 C1078.0,158 1078.0,159 1091,159" fill="none" stroke="#5aaede" stroke-width="4.2" stroke-linecap="round"/>
<path d="M963,151 C982.0,151 982.0,159 1001,159 C1019.0,159 1019.0,150 1037,150 C1051.0,150 1051.0,158 1065,158 C1078.0,158 1078.0,159 1091,159" fill="none" stroke="#3c8cc4" stroke-width="4.2" stroke-dasharray="0.6 3.4" opacity="0.6"/>
<circle cx="973" cy="85" r="1.8" fill="#e070e0"/><circle cx="976" cy="86" r="1.8" fill="#e070e0"/><circle cx="964" cy="97" r="1.8" fill="#e070e0"/><circle cx="977" cy="101" r="1.8" fill="#e070e0"/><circle cx="1001" cy="95" r="1.8" fill="#e070e0"/><circle cx="1026" cy="86" r="1.8" fill="#e070e0"/><circle cx="1042" cy="95" r="1.8" fill="#e070e0"/><circle cx="1045" cy="95" r="1.8" fill="#e070e0"/><circle cx="1018" cy="104" r="1.8" fill="#e070e0"/><circle cx="1020" cy="102" r="1.8" fill="#e070e0"/><circle cx="1052" cy="81" r="1.8" fill="#e070e0"/><circle cx="1090" cy="95" r="1.8" fill="#e070e0"/><circle cx="1094" cy="95" r="1.8" fill="#e070e0"/><circle cx="1077" cy="103" r="1.8" fill="#e070e0"/><circle cx="976" cy="118" r="1.8" fill="#e070e0"/><circle cx="979" cy="118" r="1.8" fill="#e070e0"/><circle cx="965" cy="136" r="1.8" fill="#e070e0"/><circle cx="968" cy="136" r="1.8" fill="#e070e0"/><circle cx="985" cy="130" r="1.8" fill="#e070e0"/><circle cx="997" cy="128" r="1.8" fill="#e070e0"/><circle cx="1006" cy="128" r="1.8" fill="#e070e0"/><circle cx="1027" cy="121" r="1.8" fill="#e070e0"/><circle cx="1031" cy="122" r="1.8" fill="#e070e0"/><circle cx="1052" cy="118" r="1.8" fill="#e070e0"/><circle cx="1070" cy="116" r="1.8" fill="#e070e0"/><circle cx="1051" cy="132" r="1.8" fill="#e070e0"/><circle cx="1086" cy="131" r="1.8" fill="#e070e0"/><circle cx="969" cy="149" r="1.8" fill="#e070e0"/><circle cx="972" cy="149" r="1.8" fill="#e070e0"/><circle cx="988" cy="152" r="1.8" fill="#e070e0"/><circle cx="1003" cy="152" r="1.8" fill="#e070e0"/><circle cx="1048" cy="146" r="1.8" fill="#e070e0"/><circle cx="1074" cy="152" r="1.8" fill="#e070e0"/><circle cx="1055" cy="162" r="1.8" fill="#e070e0"/><circle cx="977" cy="163" r="1.8" fill="#e070e0"/><circle cx="995" cy="165" r="1.8" fill="#e070e0"/><circle cx="1080" cy="164" r="1.8" fill="#e070e0"/><circle cx="1083" cy="164" r="1.8" fill="#e070e0"/>
<path d="M952.0,99.0 L962.3,107.1 L963.7,104.9 Z" fill="url(#cg1)"/><circle cx="963" cy="106" r="1.56" fill="#12904a"/>
<path d="M958.0,116.0 L973.2,115.3 L972.8,112.7 Z" fill="url(#cg2)"/><circle cx="973" cy="114" r="1.56" fill="#12904a"/>
<path d="M1019.0,102.0 L1041.9,105.3 L1042.1,102.7 Z" fill="url(#cg3)"/><circle cx="1042" cy="104" r="1.56" fill="#12904a"/>
<path d="M1029.0,101.0 L1043.4,97.2 L1042.6,94.8 Z" fill="url(#cg4)"/><circle cx="1043" cy="96" r="1.56" fill="#12904a"/>
<path d="M1058.0,100.0 L1066.3,107.1 L1067.7,104.9 Z" fill="url(#cg5)"/><circle cx="1067" cy="106" r="1.56" fill="#12904a"/>
<path d="M1083.0,113.0 L1098.0,114.3 L1098.0,111.7 Z" fill="url(#cg6)"/><circle cx="1098" cy="113" r="1.56" fill="#12904a"/>
<path d="M1020.0,114.0 L1030.5,120.2 L1031.5,117.8 Z" fill="url(#cg7)"/><circle cx="1031" cy="119" r="1.56" fill="#12904a"/>
<path d="M990.0,132.0 L1004.3,130.3 L1003.7,127.7 Z" fill="url(#cg8)"/><circle cx="1004" cy="129" r="1.56" fill="#12904a"/>
<path d="M1053.0,137.0 L1065.6,142.2 L1066.4,139.8 Z" fill="url(#cg9)"/><circle cx="1066" cy="141" r="1.56" fill="#12904a"/>
<path d="M1087.0,136.0 L1098.3,134.3 L1097.7,131.7 Z" fill="url(#cg10)"/><circle cx="1098" cy="133" r="1.56" fill="#12904a"/>
<path d="M1028.0,140.0 L1040.9,142.3 L1041.1,139.7 Z" fill="url(#cg11)"/><circle cx="1041" cy="141" r="1.56" fill="#12904a"/>
<path d="M958.0,141.0 L969.6,146.2 L970.4,143.8 Z" fill="url(#cg12)"/><circle cx="970" cy="145" r="1.56" fill="#12904a"/>
<path d="M1001.0,148.0 L1013.3,146.3 L1012.7,143.7 Z" fill="url(#cg13)"/><circle cx="1013" cy="145" r="1.56" fill="#12904a"/>
<path d="M1088.0,150.0 L1099.4,157.2 L1100.6,154.8 Z" fill="url(#cg14)"/><circle cx="1100" cy="156" r="1.56" fill="#12904a"/>
<line x1="1001" y1="104" x2="1001" y2="118" stroke="#222" stroke-width="1"/>
<line x1="1036" y1="133" x2="1036" y2="148" stroke="#222" stroke-width="1"/>
<path d="M993,108.5 h5 M993,113.5 h5 M1027,137 h5 M1027,142 h5" stroke="#111" stroke-width="1.2"/>
<path d="M997,106.5 l3.5,2 l-3.5,2 Z M997,111.5 l3.5,2 l-3.5,2 Z M1031,135 l3.5,2 l-3.5,2 Z M1031,140 l3.5,2 l-3.5,2 Z" fill="#111"/>
<ellipse cx="1152" cy="105" rx="26" ry="8" fill="#6ad49a" opacity="0.5" filter="url(#blur3)" transform="rotate(-16 1152 105)"/>
<path d="M1130,109 L1174,99 L1176,102 L1131,115 Z" fill="url(#comG)" opacity="0.9"/>
<circle cx="1131" cy="112" r="4" fill="#157a40"/>
<path d="M36,297 L50,300 L62,301 L75,304 L88,308 L100,311 L115,313 L130,317 L150,323 L165,327 L175,330 L195,335 L208,339 L219.7,343.5 L219.7,383.2 L200,376 L180,368 L160,362 L145,355 L130,348 L115,343 L100,340 L80,335 L70,331 L60,327 L38.4,322 Z" fill="url(#slabSide)"/>
<path d="M219.7,343.5 L230,339 L240,336 L250,331 L258,328 L265,322 L270,319 L278,316 L285,312 L291,307 L297,303 L296,345 L291,348 L285,352 L278,356 L270,358 L262,363 L255,368 L248,371 L240,375 L230,379 L219.7,383.2 Z" fill="url(#slabSide2)"/>
<g clip-path="url(#s1l)"><rect x="66" y="290" width="3" height="100" fill="#0a1a2c" opacity="0.55"/><rect x="70" y="290" width="2" height="100" fill="#3a5a80" opacity="0.55"/><rect x="92" y="290" width="3" height="100" fill="#0a1a2c" opacity="0.55"/><rect x="150" y="290" width="4" height="100" fill="#0a1a2c" opacity="0.55"/><rect x="160" y="290" width="2" height="100" fill="#355a80" opacity="0.55"/><rect x="172" y="290" width="3" height="100" fill="#0a1a2c" opacity="0.55"/><rect x="190" y="290" width="2" height="100" fill="#0a1a2c" opacity="0.55"/></g>
<g clip-path="url(#s1r)"><rect x="232" y="290" width="2" height="100" fill="#0a1a2c" opacity="0.6"/><rect x="240" y="290" width="3" height="100" fill="#6a8ab0" opacity="0.6"/><rect x="247" y="290" width="2" height="100" fill="#0a1a2c" opacity="0.6"/><rect x="262" y="290" width="3" height="100" fill="#0a1a2c" opacity="0.6"/><rect x="270" y="290" width="2" height="100" fill="#7aa0c8" opacity="0.6"/><rect x="276" y="290" width="3" height="100" fill="#0a1a2c" opacity="0.6"/><rect x="285" y="290" width="2" height="100" fill="#6a8ab0" opacity="0.6"/></g>
<path d="M36,297 L48,294 L60,291 L75,289 L90,286 L100,284 L110,281 L122,280 L134,279.7 L148,281 L160,282 L175,283 L190,285 L205,287 L220,290 L235,292 L250,294 L262,295 L275,297 L286,299 L297,302.3 L297,303 L291,307 L285,312 L278,316 L270,319 L265,322 L258,328 L250,331 L240,336 L230,339 L219.7,343.5 L219.7,343.5 L208,339 L195,335 L175,330 L165,327 L150,323 L130,317 L115,313 L100,311 L88,308 L75,304 L62,301 L50,300 L36,297 Z" fill="url(#slabTop)"/>
<path d="M486,357 C505,353 530,351 560,350 L592,351 C585,355 575,358 560,361 C540,364 515,366 487,370 Z" fill="url(#s2bl)"/>
<path d="M486,357 C500,352 515,350 530,349 L525,352 C510,353 497,355 488,359 Z" fill="#9a40c8"/>
<path d="M585,352 C600,362 612,372 622,382 L632,381 C660,372 695,362 722,353 L716,349 Z" fill="#70d8f4"/>
<path d="M590,351 C604,360 616,368 630,377 C660,368 695,360 724,354 L718,347 Z" fill="#173a58"/>
<path d="M590,350 C604,358 616,366 630,372 C660,363 695,355 727,351 L712,346 Z" fill="url(#s2mag)"/>
<path d="M486,312 L719,314 L719,346 L708,348 L590,352 L486,352 Z" fill="url(#s2st)"/>
<line x1="492.4" y1="313.5" x2="548.9" y2="313.7" stroke="#5cd0ec" stroke-width="1.1" opacity="0.6"/><line x1="555.6" y1="313.5" x2="593.0" y2="313.0" stroke="#5cd0ec" stroke-width="1.1" opacity="0.6"/><line x1="600.8" y1="313.5" x2="623.3" y2="314.1" stroke="#5cd0ec" stroke-width="1.1" opacity="0.6"/><line x1="630.4" y1="313.5" x2="673.4" y2="314.1" stroke="#5cd0ec" stroke-width="1.1" opacity="0.6"/><line x1="683.4" y1="313.5" x2="701.7" y2="313.7" stroke="#5cd0ec" stroke-width="1.1" opacity="0.6"/><line x1="706.7" y1="313.5" x2="713.8" y2="313.6" stroke="#5cd0ec" stroke-width="1.1" opacity="0.6"/>
<line x1="488.9" y1="315.2" x2="527.2" y2="315.2" stroke="#c03a9e" stroke-width="1.1" opacity="0.6"/><line x1="529.8" y1="315.2" x2="552.5" y2="315.0" stroke="#c03a9e" stroke-width="1.1" opacity="0.6"/><line x1="557.0" y1="315.2" x2="572.3" y2="315.8" stroke="#c03a9e" stroke-width="1.1" opacity="0.6"/><line x1="579.0" y1="315.2" x2="613.2" y2="315.8" stroke="#c03a9e" stroke-width="1.1" opacity="0.6"/><line x1="623.7" y1="315.2" x2="661.6" y2="315.7" stroke="#c03a9e" stroke-width="1.1" opacity="0.6"/><line x1="670.0" y1="315.2" x2="706.2" y2="315.5" stroke="#c03a9e" stroke-width="1.1" opacity="0.6"/>
<line x1="490.8" y1="317.0" x2="518.1" y2="317.5" stroke="#3a8ccc" stroke-width="1.1" opacity="0.6"/><line x1="520.8" y1="317.0" x2="570.0" y2="317.0" stroke="#3a8ccc" stroke-width="1.1" opacity="0.6"/><line x1="576.0" y1="317.0" x2="629.0" y2="317.6" stroke="#3a8ccc" stroke-width="1.1" opacity="0.6"/><line x1="634.8" y1="317.0" x2="692.9" y2="316.9" stroke="#3a8ccc" stroke-width="1.1" opacity="0.6"/><line x1="703.4" y1="317.0" x2="709.2" y2="316.5" stroke="#3a8ccc" stroke-width="1.1" opacity="0.6"/>
<line x1="494.6" y1="318.8" x2="521.0" y2="319.0" stroke="#0c2234" stroke-width="1.1" opacity="0.55"/><line x1="523.8" y1="318.8" x2="553.1" y2="318.3" stroke="#0c2234" stroke-width="1.1" opacity="0.55"/><line x1="564.8" y1="318.8" x2="613.6" y2="318.9" stroke="#0c2234" stroke-width="1.1" opacity="0.55"/><line x1="616.8" y1="318.8" x2="642.2" y2="318.3" stroke="#0c2234" stroke-width="1.1" opacity="0.55"/><line x1="645.2" y1="318.8" x2="661.9" y2="318.7" stroke="#0c2234" stroke-width="1.1" opacity="0.55"/><line x1="671.9" y1="318.8" x2="694.1" y2="318.4" stroke="#0c2234" stroke-width="1.1" opacity="0.55"/><line x1="701.7" y1="318.8" x2="716.9" y2="318.5" stroke="#0c2234" stroke-width="1.1" opacity="0.55"/>
<line x1="498.7" y1="320.5" x2="526.6" y2="320.3" stroke="#6ad8f0" stroke-width="1.1" opacity="0.6"/><line x1="537.5" y1="320.5" x2="561.2" y2="320.0" stroke="#6ad8f0" stroke-width="1.1" opacity="0.6"/><line x1="567.1" y1="320.5" x2="620.4" y2="320.0" stroke="#6ad8f0" stroke-width="1.1" opacity="0.6"/><line x1="628.8" y1="320.5" x2="647.5" y2="320.6" stroke="#6ad8f0" stroke-width="1.1" opacity="0.6"/><line x1="659.4" y1="320.5" x2="683.2" y2="320.2" stroke="#6ad8f0" stroke-width="1.1" opacity="0.6"/><line x1="687.7" y1="320.5" x2="717.2" y2="320.6" stroke="#6ad8f0" stroke-width="1.1" opacity="0.6"/>
<line x1="491.5" y1="322.2" x2="549.6" y2="322.5" stroke="#9a3a9a" stroke-width="1.1" opacity="0.6"/><line x1="556.4" y1="322.2" x2="596.8" y2="322.8" stroke="#9a3a9a" stroke-width="1.1" opacity="0.6"/><line x1="607.5" y1="322.2" x2="629.9" y2="321.9" stroke="#9a3a9a" stroke-width="1.1" opacity="0.6"/><line x1="633.5" y1="322.2" x2="689.3" y2="322.8" stroke="#9a3a9a" stroke-width="1.1" opacity="0.6"/><line x1="699.4" y1="322.2" x2="712.3" y2="322.7" stroke="#9a3a9a" stroke-width="1.1" opacity="0.6"/>
<line x1="494.2" y1="324.0" x2="513.0" y2="324.3" stroke="#2a5c8c" stroke-width="1.1" opacity="0.6"/><line x1="515.4" y1="324.0" x2="573.7" y2="323.5" stroke="#2a5c8c" stroke-width="1.1" opacity="0.6"/><line x1="578.1" y1="324.0" x2="624.5" y2="323.7" stroke="#2a5c8c" stroke-width="1.1" opacity="0.6"/><line x1="629.1" y1="324.0" x2="680.9" y2="324.1" stroke="#2a5c8c" stroke-width="1.1" opacity="0.6"/><line x1="688.9" y1="324.0" x2="711.9" y2="324.4" stroke="#2a5c8c" stroke-width="1.1" opacity="0.6"/>
<line x1="494.4" y1="325.8" x2="550.6" y2="326.3" stroke="#80e0f4" stroke-width="1.1" opacity="0.6"/><line x1="554.6" y1="325.8" x2="569.4" y2="325.9" stroke="#80e0f4" stroke-width="1.1" opacity="0.6"/><line x1="574.1" y1="325.8" x2="608.6" y2="326.0" stroke="#80e0f4" stroke-width="1.1" opacity="0.6"/><line x1="611.2" y1="325.8" x2="633.3" y2="325.9" stroke="#80e0f4" stroke-width="1.1" opacity="0.6"/><line x1="639.0" y1="325.8" x2="679.3" y2="325.3" stroke="#80e0f4" stroke-width="1.1" opacity="0.6"/><line x1="682.6" y1="325.8" x2="709.9" y2="325.2" stroke="#80e0f4" stroke-width="1.1" opacity="0.6"/>
<line x1="487.2" y1="327.5" x2="533.5" y2="327.8" stroke="#102a40" stroke-width="1.1" opacity="0.55"/><line x1="545.1" y1="327.5" x2="560.1" y2="327.7" stroke="#102a40" stroke-width="1.1" opacity="0.55"/><line x1="568.4" y1="327.5" x2="604.6" y2="327.9" stroke="#102a40" stroke-width="1.1" opacity="0.55"/><line x1="613.9" y1="327.5" x2="642.6" y2="328.0" stroke="#102a40" stroke-width="1.1" opacity="0.55"/><line x1="654.6" y1="327.5" x2="672.0" y2="327.3" stroke="#102a40" stroke-width="1.1" opacity="0.55"/><line x1="679.5" y1="327.5" x2="718.7" y2="327.7" stroke="#102a40" stroke-width="1.1" opacity="0.55"/>
<line x1="497.8" y1="329.2" x2="531.0" y2="329.8" stroke="#e060d0" stroke-width="1.1" opacity="0.6"/><line x1="540.9" y1="329.2" x2="594.6" y2="329.7" stroke="#e060d0" stroke-width="1.1" opacity="0.6"/><line x1="602.4" y1="329.2" x2="645.1" y2="329.5" stroke="#e060d0" stroke-width="1.1" opacity="0.6"/><line x1="650.9" y1="329.2" x2="691.7" y2="329.1" stroke="#e060d0" stroke-width="1.1" opacity="0.6"/><line x1="699.8" y1="329.2" x2="717.5" y2="329.5" stroke="#e060d0" stroke-width="1.1" opacity="0.6"/>
<line x1="494.0" y1="331.0" x2="546.5" y2="331.5" stroke="#5cd0ec" stroke-width="1.1" opacity="0.6"/><line x1="549.4" y1="331.0" x2="597.9" y2="330.7" stroke="#5cd0ec" stroke-width="1.1" opacity="0.6"/><line x1="600.2" y1="331.0" x2="641.8" y2="330.4" stroke="#5cd0ec" stroke-width="1.1" opacity="0.6"/><line x1="648.7" y1="331.0" x2="673.2" y2="330.8" stroke="#5cd0ec" stroke-width="1.1" opacity="0.6"/><line x1="682.2" y1="331.0" x2="712.2" y2="331.2" stroke="#5cd0ec" stroke-width="1.1" opacity="0.6"/>
<line x1="489.4" y1="332.8" x2="545.1" y2="333.2" stroke="#c03a9e" stroke-width="1.1" opacity="0.6"/><line x1="553.7" y1="332.8" x2="588.0" y2="332.6" stroke="#c03a9e" stroke-width="1.1" opacity="0.6"/><line x1="598.9" y1="332.8" x2="628.0" y2="332.8" stroke="#c03a9e" stroke-width="1.1" opacity="0.6"/><line x1="636.6" y1="332.8" x2="659.8" y2="332.5" stroke="#c03a9e" stroke-width="1.1" opacity="0.6"/><line x1="666.1" y1="332.8" x2="708.4" y2="332.3" stroke="#c03a9e" stroke-width="1.1" opacity="0.6"/>
<line x1="493.0" y1="334.5" x2="546.0" y2="334.5" stroke="#3a8ccc" stroke-width="1.1" opacity="0.6"/><line x1="555.1" y1="334.5" x2="612.8" y2="334.3" stroke="#3a8ccc" stroke-width="1.1" opacity="0.6"/><line x1="617.6" y1="334.5" x2="639.4" y2="334.9" stroke="#3a8ccc" stroke-width="1.1" opacity="0.6"/><line x1="645.9" y1="334.5" x2="672.5" y2="335.1" stroke="#3a8ccc" stroke-width="1.1" opacity="0.6"/><line x1="676.7" y1="334.5" x2="709.7" y2="334.4" stroke="#3a8ccc" stroke-width="1.1" opacity="0.6"/>
<line x1="487.9" y1="336.2" x2="542.0" y2="335.8" stroke="#0c2234" stroke-width="1.1" opacity="0.55"/><line x1="544.5" y1="336.2" x2="591.1" y2="335.7" stroke="#0c2234" stroke-width="1.1" opacity="0.55"/><line x1="598.8" y1="336.2" x2="627.0" y2="336.4" stroke="#0c2234" stroke-width="1.1" opacity="0.55"/><line x1="636.9" y1="336.2" x2="651.8" y2="336.2" stroke="#0c2234" stroke-width="1.1" opacity="0.55"/><line x1="655.1" y1="336.2" x2="690.1" y2="336.4" stroke="#0c2234" stroke-width="1.1" opacity="0.55"/><line x1="692.3" y1="336.2" x2="706.4" y2="336.4" stroke="#0c2234" stroke-width="1.1" opacity="0.55"/>
<line x1="496.7" y1="338.0" x2="542.2" y2="338.1" stroke="#6ad8f0" stroke-width="1.1" opacity="0.6"/><line x1="546.2" y1="338.0" x2="582.0" y2="338.3" stroke="#6ad8f0" stroke-width="1.1" opacity="0.6"/><line x1="585.8" y1="338.0" x2="600.3" y2="337.9" stroke="#6ad8f0" stroke-width="1.1" opacity="0.6"/><line x1="607.0" y1="338.0" x2="653.9" y2="338.4" stroke="#6ad8f0" stroke-width="1.1" opacity="0.6"/><line x1="657.7" y1="338.0" x2="684.2" y2="338.5" stroke="#6ad8f0" stroke-width="1.1" opacity="0.6"/><line x1="689.7" y1="338.0" x2="719.4" y2="337.5" stroke="#6ad8f0" stroke-width="1.1" opacity="0.6"/>
<line x1="498.2" y1="339.8" x2="518.2" y2="339.9" stroke="#9a3a9a" stroke-width="1.1" opacity="0.6"/><line x1="524.7" y1="339.8" x2="567.5" y2="339.4" stroke="#9a3a9a" stroke-width="1.1" opacity="0.6"/><line x1="578.6" y1="339.8" x2="609.9" y2="340.0" stroke="#9a3a9a" stroke-width="1.1" opacity="0.6"/><line x1="617.6" y1="339.8" x2="672.0" y2="340.1" stroke="#9a3a9a" stroke-width="1.1" opacity="0.6"/><line x1="682.0" y1="339.8" x2="716.1" y2="339.9" stroke="#9a3a9a" stroke-width="1.1" opacity="0.6"/>
<line x1="495.6" y1="341.5" x2="551.0" y2="341.3" stroke="#2a5c8c" stroke-width="1.1" opacity="0.6"/><line x1="562.8" y1="341.5" x2="621.8" y2="341.0" stroke="#2a5c8c" stroke-width="1.1" opacity="0.6"/><line x1="629.1" y1="341.5" x2="679.5" y2="341.4" stroke="#2a5c8c" stroke-width="1.1" opacity="0.6"/><line x1="684.7" y1="341.5" x2="709.0" y2="341.6" stroke="#2a5c8c" stroke-width="1.1" opacity="0.6"/>
<line x1="496.2" y1="343.2" x2="511.5" y2="343.5" stroke="#80e0f4" stroke-width="1.1" opacity="0.6"/><line x1="521.6" y1="343.2" x2="538.6" y2="343.8" stroke="#80e0f4" stroke-width="1.1" opacity="0.6"/><line x1="548.6" y1="343.2" x2="570.5" y2="343.2" stroke="#80e0f4" stroke-width="1.1" opacity="0.6"/><line x1="575.9" y1="343.2" x2="626.1" y2="343.8" stroke="#80e0f4" stroke-width="1.1" opacity="0.6"/><line x1="629.5" y1="343.2" x2="650.4" y2="342.8" stroke="#80e0f4" stroke-width="1.1" opacity="0.6"/><line x1="657.5" y1="343.2" x2="704.8" y2="342.9" stroke="#80e0f4" stroke-width="1.1" opacity="0.6"/>
<line x1="493.3" y1="345.0" x2="540.8" y2="345.4" stroke="#102a40" stroke-width="1.1" opacity="0.55"/><line x1="549.2" y1="345.0" x2="587.3" y2="345.6" stroke="#102a40" stroke-width="1.1" opacity="0.55"/><line x1="597.7" y1="345.0" x2="637.5" y2="345.0" stroke="#102a40" stroke-width="1.1" opacity="0.55"/><line x1="642.6" y1="345.0" x2="674.1" y2="345.1" stroke="#102a40" stroke-width="1.1" opacity="0.55"/><line x1="684.6" y1="345.0" x2="710.1" y2="344.6" stroke="#102a40" stroke-width="1.1" opacity="0.55"/>
<line x1="493.4" y1="346.8" x2="535.3" y2="346.8" stroke="#e060d0" stroke-width="1.1" opacity="0.6"/><line x1="537.5" y1="346.8" x2="596.1" y2="346.6" stroke="#e060d0" stroke-width="1.1" opacity="0.6"/><line x1="603.3" y1="346.8" x2="635.7" y2="347.3" stroke="#e060d0" stroke-width="1.1" opacity="0.6"/><line x1="645.7" y1="346.8" x2="685.6" y2="347.3" stroke="#e060d0" stroke-width="1.1" opacity="0.6"/><line x1="692.5" y1="346.8" x2="713.0" y2="346.5" stroke="#e060d0" stroke-width="1.1" opacity="0.6"/>
<line x1="492.7" y1="348.5" x2="526.6" y2="347.9" stroke="#5cd0ec" stroke-width="1.1" opacity="0.6"/><line x1="536.8" y1="348.5" x2="592.2" y2="348.1" stroke="#5cd0ec" stroke-width="1.1" opacity="0.6"/><line x1="599.0" y1="348.5" x2="627.6" y2="348.2" stroke="#5cd0ec" stroke-width="1.1" opacity="0.6"/><line x1="631.5" y1="348.5" x2="673.9" y2="348.7" stroke="#5cd0ec" stroke-width="1.1" opacity="0.6"/><line x1="685.2" y1="348.5" x2="705.1" y2="348.3" stroke="#5cd0ec" stroke-width="1.1" opacity="0.6"/>
<line x1="491.3" y1="350.2" x2="510.1" y2="350.4" stroke="#c03a9e" stroke-width="1.1" opacity="0.6"/><line x1="519.4" y1="350.2" x2="539.0" y2="350.3" stroke="#c03a9e" stroke-width="1.1" opacity="0.6"/><line x1="546.2" y1="350.2" x2="571.7" y2="350.7" stroke="#c03a9e" stroke-width="1.1" opacity="0.6"/><line x1="575.7" y1="350.2" x2="614.0" y2="350.4" stroke="#c03a9e" stroke-width="1.1" opacity="0.6"/><line x1="620.4" y1="350.2" x2="651.7" y2="350.7" stroke="#c03a9e" stroke-width="1.1" opacity="0.6"/><line x1="657.8" y1="350.2" x2="696.2" y2="349.9" stroke="#c03a9e" stroke-width="1.1" opacity="0.6"/><line x1="699.8" y1="350.2" x2="714.7" y2="350.5" stroke="#c03a9e" stroke-width="1.1" opacity="0.6"/>
<path d="M560,316 L600,305 L640,301 L700,304 L718,309 L700,315 L600,318 Z" fill="#1e4a70"/>
<path d="M487,307.5 C510,307 540,307.5 567,308 L556,315 L492,314 Z" fill="#8ef0fa"/>
<path d="M546,316 C570,310 590,303 610,292 C620,287 626,283 632,282 C660,283 695,286 723,289 C708,296 695,302 680,305 C660,306 645,306 632,307.5 C610,309 590,312 546,316 Z" fill="url(#s2top)"/>
<path d="M597,316 C615,311 630,305 642,303 C660,304 690,306 717,308 C705,312 690,315 675,317.4 C650,318 620,318 597,316 Z" fill="#285e8a"/>
<path d="M894.6,340.2 L904.2,347.3 L913.7,350.3 L923.3,357.4 L932.8,364.5 L942.4,367.4 L952.0,374.5 L961.5,381.6 L971.1,384.6 L980.6,391.7 L990.2,398.8 L999.8,401.7 L1009.3,408.8 L1018.9,415.9 L1028.4,418.9 L1038.0,426.0 L1047.8,416.7 L1057.5,411.1 L1067.2,402.2 L1077.0,392.7 L1086.8,387.1 L1096.5,378.2 L1106.2,368.7 L1116.0,363.1 L1125.8,354.2 L1135.5,344.7 L1145.2,339.1 L1155.0,330.0 L1155.0,335.7 L1145.2,344.8 L1135.5,350.4 L1125.8,359.9 L1116.0,368.8 L1106.2,374.4 L1096.5,383.9 L1086.8,392.8 L1077.0,397.5 L1067.2,406.1 L1057.5,414.2 L1047.8,418.9 L1038.0,428.2 L1028.4,421.1 L1018.9,418.1 L1009.3,411.0 L999.8,403.9 L990.2,401.0 L980.6,393.9 L971.1,386.8 L961.5,383.8 L952.0,376.7 L942.4,369.6 L932.8,366.7 L923.3,359.6 L913.7,352.5 L904.2,349.5 L894.6,342.4 Z" fill="#1d4468"/>
<path d="M894.6,340.2 L908.5,337.2 L922.5,332.7 L936.4,327.3 L950.3,325.4 L964.3,320.9 L978.2,315.6 L992.1,313.7 L1006.1,309.2 L1020.0,305.0 L1035.0,308.2 L1050.0,309.4 L1065.0,314.1 L1080.0,316.5 L1095.0,317.7 L1110.0,322.5 L1125.0,324.8 L1140.0,326.0 L1155.0,330.0 L1145.2,339.1 L1135.5,344.7 L1125.8,354.2 L1116.0,363.1 L1106.2,368.7 L1096.5,378.2 L1086.8,387.1 L1077.0,392.7 L1067.2,402.2 L1057.5,411.1 L1047.8,416.7 L1038.0,426.0 L1028.4,418.9 L1018.9,415.9 L1009.3,408.8 L999.8,401.7 L990.2,398.8 L980.6,391.7 L971.1,384.6 L961.5,381.6 L952.0,374.5 L942.4,367.4 L932.8,364.5 L923.3,357.4 L913.7,350.3 L904.2,347.3 L894.6,340.2 Z" fill="url(#s3top)"/>
<path d="M891,328.5 L900.9,334.1 L910.9,338.2 L920.8,346.5 L930.7,350.8 L940.7,354.9 L950.6,363.2 L960.5,367.5 L970.5,371.6 L980.4,379.9 L990.3,384.2 L1000.3,388.3 L1010.2,396.6 L1020.1,400.9 L1030.1,405.0 L1040.0,412.0 L1050.0,404.4 L1060.0,398.6 L1070.0,388.9 L1080.0,382.3 L1090.0,376.5 L1100.0,366.8 L1110.0,360.2 L1120.0,354.5 L1130.0,344.7 L1140.0,338.2 L1150.0,332.4 L1160.0,323.7 L1160.0,329.4 L1150.0,338.1 L1140.0,343.9 L1130.0,350.4 L1120.0,360.2 L1110.0,365.9 L1100.0,372.5 L1090.0,382.2 L1080.0,387.1 L1070.0,392.8 L1060.0,401.7 L1050.0,406.6 L1040.0,414.2 L1030.1,407.2 L1020.1,403.1 L1010.2,398.8 L1000.3,390.5 L990.3,386.4 L980.4,382.1 L970.5,373.8 L960.5,369.7 L950.6,365.4 L940.7,357.1 L930.7,353.0 L920.8,348.7 L910.9,340.4 L900.9,336.3 L891,330.7 Z" fill="#1d4468"/>
<path d="M891,328.5 L905.1,326.2 L919.2,320.7 L933.3,317.7 L947.4,315.7 L961.6,310.2 L975.7,307.2 L989.8,305.2 L1003.9,299.7 L1018.0,297.0 L1033.8,299.2 L1049.6,302.5 L1065.3,307.1 L1081.1,308.1 L1096.9,311.4 L1112.7,316.0 L1128.4,317.0 L1144.2,320.3 L1160.0,323.7 L1150.0,332.4 L1140.0,338.2 L1130.0,344.7 L1120.0,354.5 L1110.0,360.2 L1100.0,366.8 L1090.0,376.5 L1080.0,382.3 L1070.0,388.9 L1060.0,398.6 L1050.0,404.4 L1040.0,412.0 L1030.1,405.0 L1020.1,400.9 L1010.2,396.6 L1000.3,388.3 L990.3,384.2 L980.4,379.9 L970.5,371.6 L960.5,367.5 L950.6,363.2 L940.7,354.9 L930.7,350.8 L920.8,346.5 L910.9,338.2 L900.9,334.1 L891,328.5 Z" fill="url(#s3top)"/>
<path d="M889.7,321.3 L899.7,325.1 L909.7,331.4 L919.8,338.1 L929.8,340.4 L939.8,346.7 L949.8,353.4 L959.8,355.8 L969.9,362.1 L979.9,368.8 L989.9,371.1 L999.9,377.4 L1009.9,384.1 L1020.0,386.5 L1030.0,392.7 L1040.0,398.0 L1050.0,392.4 L1060.0,385.1 L1070.0,376.9 L1080.0,372.6 L1090.0,365.3 L1100.0,357.1 L1110.0,352.8 L1120.0,345.5 L1130.0,337.3 L1140.0,333.0 L1150.0,325.7 L1160.0,318.8 L1160.0,324.5 L1150.0,331.4 L1140.0,338.7 L1130.0,343.0 L1120.0,351.2 L1110.0,358.5 L1100.0,362.8 L1090.0,371.0 L1080.0,377.4 L1070.0,380.8 L1060.0,388.2 L1050.0,394.6 L1040.0,400.2 L1030.0,394.9 L1020.0,388.7 L1009.9,386.3 L999.9,379.6 L989.9,373.3 L979.9,371.0 L969.9,364.3 L959.8,358.0 L949.8,355.6 L939.8,348.9 L929.8,342.6 L919.8,340.3 L909.7,333.6 L899.7,327.3 L889.7,323.5 Z" fill="#1d4468"/>
<path d="M889.7,321.3 L903.8,318.2 L918.0,313.2 L932.1,311.7 L946.3,307.8 L960.4,302.7 L974.6,301.2 L988.7,297.3 L1002.9,292.3 L1017.0,290.0 L1032.9,292.0 L1048.8,297.1 L1064.7,300.1 L1080.6,301.6 L1096.4,306.7 L1112.3,309.7 L1128.2,311.2 L1144.1,316.3 L1160.0,318.8 L1150.0,325.7 L1140.0,333.0 L1130.0,337.3 L1120.0,345.5 L1110.0,352.8 L1100.0,357.1 L1090.0,365.3 L1080.0,372.6 L1070.0,376.9 L1060.0,385.1 L1050.0,392.4 L1040.0,398.0 L1030.0,392.7 L1020.0,386.5 L1009.9,384.1 L999.9,377.4 L989.9,371.1 L979.9,368.8 L969.9,362.1 L959.8,355.8 L949.8,353.4 L939.8,346.7 L929.8,340.4 L919.8,338.1 L909.7,331.4 L899.7,325.1 L889.7,321.3 Z" fill="url(#s3top)"/>
<path d="M887.3,313.5 L897.5,316.7 L907.8,324.2 L918.0,327.9 L928.2,330.9 L938.4,338.4 L948.7,342.1 L958.9,345.1 L969.1,352.6 L979.3,356.3 L989.6,359.3 L999.8,366.8 L1010.0,370.5 L1020.2,373.5 L1030.5,381.0 L1040.7,384.5 L1050.9,379.7 L1061.2,371.2 L1071.4,365.6 L1081.7,361.1 L1091.9,352.6 L1102.2,347.0 L1112.4,342.6 L1122.6,334.1 L1132.9,328.5 L1143.1,324.0 L1153.4,315.5 L1163.6,310.3 L1163.6,316.0 L1153.4,321.2 L1143.1,329.7 L1132.9,334.2 L1122.6,339.8 L1112.4,348.3 L1102.2,352.7 L1091.9,358.3 L1081.7,366.0 L1071.4,369.5 L1061.2,374.2 L1050.9,381.9 L1040.7,386.7 L1030.5,383.2 L1020.2,375.7 L1010.0,372.7 L999.8,369.0 L989.6,361.5 L979.3,358.5 L969.1,354.8 L958.9,347.3 L948.7,344.3 L938.4,340.6 L928.2,333.1 L918.0,330.1 L907.8,326.4 L897.5,318.9 L887.3,315.7 Z" fill="#1d4468"/>
<path d="M887.3,313.5 L901.6,309.4 L915.9,306.4 L930.2,304.7 L944.5,299.4 L958.8,296.4 L973.1,294.7 L987.4,289.4 L1001.7,286.4 L1016.0,283.5 L1032.4,285.9 L1048.8,290.7 L1065.2,291.8 L1081.6,294.9 L1098.0,299.6 L1114.4,300.7 L1130.8,303.8 L1147.2,308.5 L1163.6,310.3 L1153.4,315.5 L1143.1,324.0 L1132.9,328.5 L1122.6,334.1 L1112.4,342.6 L1102.2,347.0 L1091.9,352.6 L1081.7,361.1 L1071.4,365.6 L1061.2,371.2 L1050.9,379.7 L1040.7,384.5 L1030.5,381.0 L1020.2,373.5 L1010.0,370.5 L999.8,366.8 L989.6,359.3 L979.3,356.3 L969.1,352.6 L958.9,345.1 L948.7,342.1 L938.4,338.4 L928.2,330.9 L918.0,327.9 L907.8,324.2 L897.5,316.7 L887.3,313.5 Z" fill="url(#s3top)"/>
<circle cx="907.4" cy="318.1" r="2.1" fill="url(#pd)"/><circle cx="931.4" cy="327.3" r="2.1" fill="url(#pd)"/><circle cx="947.0" cy="336.7" r="2.1" fill="url(#pd)"/><circle cx="994.0" cy="351.2" r="2.1" fill="url(#pd)"/><circle cx="1016.0" cy="362.5" r="2.1" fill="url(#pd)"/><circle cx="1028.5" cy="370.2" r="2.1" fill="url(#pd)"/><circle cx="914.9" cy="312.1" r="2.1" fill="url(#pd)"/><circle cx="949.1" cy="322.7" r="2.1" fill="url(#pd)"/><circle cx="963.9" cy="330.1" r="2.1" fill="url(#pd)"/><circle cx="969.1" cy="336.6" r="2.1" fill="url(#pd)"/><circle cx="993.5" cy="342.0" r="2.1" fill="url(#pd)"/><circle cx="1007.3" cy="348.4" r="2.1" fill="url(#pd)"/><circle cx="1026.4" cy="354.6" r="2.1" fill="url(#pd)"/><circle cx="1036.6" cy="360.7" r="2.1" fill="url(#pd)"/><circle cx="1049.7" cy="364.7" r="2.1" fill="url(#pd)"/><circle cx="928.5" cy="310.7" r="2.1" fill="url(#pd)"/><circle cx="943.9" cy="316.6" r="2.1" fill="url(#pd)"/><circle cx="979.3" cy="326.2" r="2.1" fill="url(#pd)"/><circle cx="990.7" cy="334.0" r="2.1" fill="url(#pd)"/><circle cx="1004.7" cy="337.5" r="2.1" fill="url(#pd)"/><circle cx="1022.6" cy="341.5" r="2.1" fill="url(#pd)"/><circle cx="1031.2" cy="352.1" r="2.1" fill="url(#pd)"/><circle cx="1055.6" cy="353.6" r="2.1" fill="url(#pd)"/><circle cx="1062.4" cy="361.6" r="2.1" fill="url(#pd)"/><circle cx="951.8" cy="311.5" r="2.1" fill="url(#pd)"/><circle cx="981.4" cy="322.7" r="2.1" fill="url(#pd)"/><circle cx="1000.8" cy="324.6" r="2.1" fill="url(#pd)"/><circle cx="1021.1" cy="334.3" r="2.1" fill="url(#pd)"/><circle cx="1031.4" cy="335.6" r="2.1" fill="url(#pd)"/><circle cx="1047.8" cy="345.5" r="2.1" fill="url(#pd)"/><circle cx="1052.0" cy="348.8" r="2.1" fill="url(#pd)"/><circle cx="1070.5" cy="355.0" r="2.1" fill="url(#pd)"/><circle cx="949.3" cy="302.5" r="2.1" fill="url(#pd)"/><circle cx="970.9" cy="309.3" r="2.1" fill="url(#pd)"/><circle cx="987.6" cy="312.9" r="2.1" fill="url(#pd)"/><circle cx="996.4" cy="315.9" r="2.1" fill="url(#pd)"/><circle cx="1020.8" cy="323.4" r="2.1" fill="url(#pd)"/><circle cx="1025.9" cy="327.8" r="2.1" fill="url(#pd)"/><circle cx="1047.4" cy="337.7" r="2.1" fill="url(#pd)"/><circle cx="1065.6" cy="343.2" r="2.1" fill="url(#pd)"/><circle cx="978.0" cy="305.7" r="2.1" fill="url(#pd)"/><circle cx="1008.7" cy="312.3" r="2.1" fill="url(#pd)"/><circle cx="1022.8" cy="318.4" r="2.1" fill="url(#pd)"/><circle cx="1048.7" cy="323.0" r="2.1" fill="url(#pd)"/><circle cx="1049.2" cy="325.7" r="2.1" fill="url(#pd)"/><circle cx="1083.8" cy="338.3" r="2.1" fill="url(#pd)"/><circle cx="1097.0" cy="344.5" r="2.1" fill="url(#pd)"/><circle cx="978.4" cy="298.6" r="2.1" fill="url(#pd)"/><circle cx="1018.1" cy="305.2" r="2.1" fill="url(#pd)"/><circle cx="1019.8" cy="310.0" r="2.1" fill="url(#pd)"/><circle cx="1040.5" cy="312.7" r="2.1" fill="url(#pd)"/><circle cx="1046.9" cy="317.4" r="2.1" fill="url(#pd)"/><circle cx="1074.3" cy="320.6" r="2.1" fill="url(#pd)"/><circle cx="1085.5" cy="324.9" r="2.1" fill="url(#pd)"/><circle cx="1092.4" cy="329.1" r="2.1" fill="url(#pd)"/><circle cx="1007.2" cy="299.3" r="2.1" fill="url(#pd)"/><circle cx="1025.8" cy="303.1" r="2.1" fill="url(#pd)"/><circle cx="1038.3" cy="303.3" r="2.1" fill="url(#pd)"/><circle cx="1043.5" cy="309.0" r="2.1" fill="url(#pd)"/><circle cx="1069.1" cy="313.2" r="2.1" fill="url(#pd)"/><circle cx="1079.0" cy="316.7" r="2.1" fill="url(#pd)"/><circle cx="1089.4" cy="322.2" r="2.1" fill="url(#pd)"/><circle cx="1111.0" cy="322.7" r="2.1" fill="url(#pd)"/><circle cx="1119.8" cy="329.6" r="2.1" fill="url(#pd)"/><circle cx="1013.6" cy="291.7" r="2.1" fill="url(#pd)"/><circle cx="1023.4" cy="295.9" r="2.1" fill="url(#pd)"/><circle cx="1026.0" cy="297.8" r="2.1" fill="url(#pd)"/><circle cx="1054.6" cy="300.3" r="2.1" fill="url(#pd)"/><circle cx="1069.8" cy="304.2" r="2.1" fill="url(#pd)"/><circle cx="1074.4" cy="308.2" r="2.1" fill="url(#pd)"/><circle cx="1089.9" cy="314.1" r="2.1" fill="url(#pd)"/><circle cx="1108.3" cy="314.9" r="2.1" fill="url(#pd)"/><circle cx="1124.3" cy="316.1" r="2.1" fill="url(#pd)"/><circle cx="1126.5" cy="321.1" r="2.1" fill="url(#pd)"/><circle cx="1015.6" cy="287.4" r="2.1" fill="url(#pd)"/><circle cx="1032.4" cy="293.0" r="2.1" fill="url(#pd)"/><circle cx="1045.9" cy="294.1" r="2.1" fill="url(#pd)"/><circle cx="1063.1" cy="297.9" r="2.1" fill="url(#pd)"/><circle cx="1073.7" cy="299.4" r="2.1" fill="url(#pd)"/><circle cx="1092.5" cy="305.4" r="2.1" fill="url(#pd)"/><circle cx="1111.5" cy="309.5" r="2.1" fill="url(#pd)"/><circle cx="1127.4" cy="310.2" r="2.1" fill="url(#pd)"/><circle cx="1146.4" cy="314.0" r="2.1" fill="url(#pd)"/><circle cx="921.9" cy="354.5" r="2.3" fill="url(#pd)"/><circle cx="1105.4" cy="368.7" r="2.3" fill="url(#pd)"/><circle cx="939.2" cy="364.9" r="2.3" fill="url(#pd)"/><circle cx="1077.2" cy="391.8" r="2.3" fill="url(#pd)"/><circle cx="1003.1" cy="403.1" r="2.3" fill="url(#pd)"/><circle cx="1100.2" cy="373.0" r="2.3" fill="url(#pd)"/><circle cx="977.0" cy="374.7" r="2.3" fill="url(#pd)"/><circle cx="1129.5" cy="344.1" r="2.3" fill="url(#pd)"/><circle cx="1021.5" cy="399.6" r="2.3" fill="url(#pd)"/><circle cx="1097.2" cy="367.9" r="2.3" fill="url(#pd)"/><circle cx="983.5" cy="378.3" r="2.3" fill="url(#pd)"/><circle cx="1103.6" cy="363.2" r="2.3" fill="url(#pd)"/><circle cx="970.2" cy="360.4" r="2.3" fill="url(#pd)"/><circle cx="1122.7" cy="341.4" r="2.3" fill="url(#pd)"/><circle cx="962.5" cy="356.5" r="2.3" fill="url(#pd)"/><circle cx="1106.4" cy="352.2" r="2.3" fill="url(#pd)"/><circle cx="965.8" cy="358.1" r="2.3" fill="url(#pd)"/><circle cx="1148.0" cy="324.7" r="2.3" fill="url(#pd)"/>
<path d="M103,187 L249,187 L172,301 Z" fill="url(#cn1)" opacity="0.35"/>
<path d="M510,187 L655,187 L584,305 Z" fill="url(#cn2)" opacity="0.35"/>
<path d="M953,187 L1098,187 L1022,286 Z" fill="url(#cn3)" opacity="0.35"/>
<path d="M310.4,251.7 L314.1,249.6 L317.9,247.7 L321.7,245.9 L325.5,244.3 L329.4,242.7 L333.2,241.3 L337.0,239.9 L340.9,238.7 L344.7,237.6 L348.6,236.6 L352.5,235.8 L356.4,235.0 L360.3,234.4 L364.2,233.9 L368.1,233.5 L372.1,233.2 L376.0,233.0 L380.0,232.9 L383.9,233.0 L387.9,233.1 L391.9,233.4 L395.9,233.8 L399.9,234.3 L404.0,234.9 L408.0,235.6 L412.1,236.5 L416.1,237.4 L420.2,238.5 L424.3,239.6 L428.4,240.9 L432.5,242.3 L436.7,243.9 L440.8,245.5 L445.0,247.2 L449.2,249.1 L453.4,251.0 L457.6,253.1 L461.8,255.3 L466.0,257.6 L470.3,260.0 L473.7,254.0 L469.3,251.6 L464.9,249.3 L460.5,247.2 L456.1,245.2 L451.7,243.3 L447.3,241.5 L443.0,239.9 L438.7,238.3 L434.4,236.9 L430.1,235.6 L425.8,234.4 L421.5,233.3 L417.3,232.3 L413.1,231.5 L408.9,230.8 L404.7,230.1 L400.5,229.7 L396.3,229.3 L392.2,229.0 L388.1,228.9 L384.0,228.9 L379.9,228.9 L375.8,229.2 L371.8,229.5 L367.7,229.9 L363.7,230.5 L359.7,231.1 L355.8,231.9 L351.8,232.8 L347.9,233.9 L344.0,235.0 L340.1,236.2 L336.2,237.6 L332.4,239.1 L328.5,240.7 L324.7,242.4 L320.9,244.2 L317.1,246.1 L313.4,248.2 L309.6,250.3 Z" fill="url(#arrG)"/>
<path d="M483,262 L468,242 L466,251 L452,262 Z" fill="#1a3ee0"/>
<path d="M737.4,251.6 L740.6,249.6 L743.8,247.7 L747.1,245.9 L750.4,244.2 L753.8,242.7 L757.2,241.2 L760.6,239.9 L764.1,238.7 L767.6,237.6 L771.2,236.6 L774.8,235.7 L778.5,234.9 L782.1,234.3 L785.9,233.7 L789.7,233.3 L793.5,233.0 L797.3,232.8 L801.2,232.7 L805.2,232.7 L809.2,232.9 L813.2,233.1 L817.3,233.5 L821.4,234.0 L825.6,234.5 L829.8,235.2 L834.1,236.0 L838.4,237.0 L842.7,238.0 L847.1,239.1 L851.6,240.4 L856.0,241.8 L860.6,243.2 L865.2,244.8 L869.8,246.5 L874.4,248.4 L879.2,250.3 L883.9,252.3 L888.7,254.5 L893.6,256.8 L898.5,259.2 L901.5,252.8 L896.5,250.5 L891.5,248.4 L886.5,246.3 L881.6,244.3 L876.7,242.5 L871.9,240.7 L867.1,239.1 L862.4,237.6 L857.7,236.2 L853.1,235.0 L848.5,233.8 L843.9,232.8 L839.4,231.9 L835.0,231.1 L830.6,230.4 L826.2,229.8 L821.9,229.3 L817.7,229.0 L813.5,228.7 L809.3,228.6 L805.2,228.6 L801.1,228.7 L797.1,229.0 L793.2,229.3 L789.2,229.8 L785.4,230.4 L781.6,231.0 L777.8,231.8 L774.1,232.8 L770.4,233.8 L766.8,235.0 L763.2,236.2 L759.7,237.6 L756.3,239.1 L752.9,240.7 L749.5,242.4 L746.2,244.2 L742.9,246.2 L739.7,248.2 L736.6,250.4 Z" fill="url(#arrG)"/>
<path d="M910,260 L894,241 L892,251 L880,261 Z" fill="#1a3ee0"/>
<text font-size="20.5" font-weight="normal" fill="#2a60c2" stroke="#2a60c2" stroke-width="0.6"><textPath href="#arc1" textLength="258" lengthAdjust="spacingAndGlyphs">Retained Al-layer element</textPath></text>
<text font-size="20.5" font-weight="normal" fill="#2a60c2" stroke="#2a60c2" stroke-width="0.6"><textPath href="#arc2" textLength="203" lengthAdjust="spacingAndGlyphs">In-suit Derived Al<tspan font-size="14" dy="5">2</tspan><tspan dy="-5">O</tspan><tspan font-size="14" dy="5">3</tspan></textPath></text>
<text font-size="21" font-weight="normal" fill="#000" stroke="#000" stroke-width="0.6"><textPath href="#arc3" textLength="107" lengthAdjust="spacingAndGlyphs">HF Etching</textPath></text>
<text font-size="21" font-weight="normal" fill="#000" stroke="#000" stroke-width="0.6"><textPath href="#arc4" textLength="160" lengthAdjust="spacingAndGlyphs">Heat Treatment</textPath></text>
<text x="29" y="39.3" font-size="31" font-weight="bold" fill="#000" textLength="38.5" lengthAdjust="spacingAndGlyphs" text-anchor="start" >(a)</text>
<circle cx="44" cy="77" r="7" fill="url(#lgC)"/><circle cx="44" cy="111.8" r="7" fill="url(#lgT)"/><circle cx="44" cy="146" r="7" fill="url(#lgA)"/>
<text x="61" y="82" font-size="15.5" font-weight="bold" fill="#000" font-style="italic" textLength="9" lengthAdjust="spacingAndGlyphs" text-anchor="start" >C</text>
<text x="61" y="117" font-size="15.5" font-weight="bold" fill="#000" textLength="17" lengthAdjust="spacingAndGlyphs" text-anchor="start" >Ti</text>
<text x="61.5" y="151.8" font-size="15.5" font-weight="bold" fill="#000" font-style="italic" textLength="16" lengthAdjust="spacingAndGlyphs" text-anchor="start" >Al</text>
<text x="964.5" y="54.1" font-size="14.8" font-weight="normal" fill="#000" textLength="123.5" lengthAdjust="spacingAndGlyphs" text-anchor="start" stroke="#000" stroke-width="0.45">“Nanopump-like”</text>
<text x="1000.6" y="73" font-size="15.5" font-weight="normal" fill="#000" textLength="50.4" lengthAdjust="spacingAndGlyphs" text-anchor="start" stroke="#000" stroke-width="0.5">Effect</text>
<text x="1103.6" y="139.8" font-size="14.8" font-weight="normal" fill="#000" textLength="90.4" lengthAdjust="spacingAndGlyphs" text-anchor="start" stroke="#000" stroke-width="0.45">Accelerated</text>
<text x="1141" y="158.7" font-size="16.5" font-weight="normal" fill="#000" textLength="14" lengthAdjust="spacingAndGlyphs" text-anchor="start" stroke="#000" stroke-width="0.5">F<tspan dy="-7" font-size="10">-</tspan></text>
<text x="140.5" y="414.8" font-size="22" font-weight="bold" fill="#000" textLength="71" lengthAdjust="spacingAndGlyphs" text-anchor="start" >Ti<tspan dy="4.5" font-size="14">3</tspan><tspan dy="-4.5">AlC</tspan><tspan dy="4.5" font-size="14">2</tspan></text>
<text x="557.5" y="417.6" font-size="22" font-weight="bold" fill="#000" textLength="92" lengthAdjust="spacingAndGlyphs" text-anchor="start" >i-Ti<tspan dy="4.5" font-size="14">3</tspan><tspan dy="-4.5">C</tspan><tspan dy="4.5" font-size="14">2</tspan><tspan dy="-4.5">T</tspan><tspan dy="4.5" font-size="14">x</tspan></text>
<text x="841.5" y="414.5" font-size="22" font-weight="bold" fill="#000" textLength="152" lengthAdjust="spacingAndGlyphs" text-anchor="start" >Al<tspan dy="4.5" font-size="14">2</tspan><tspan dy="-4.5">O</tspan><tspan dy="4.5" font-size="14">3</tspan><tspan dy="-4.5">/i-Ti</tspan><tspan dy="4.5" font-size="14">3</tspan><tspan dy="-4.5">C</tspan><tspan dy="4.5" font-size="14">2</tspan><tspan dy="-4.5">T</tspan><tspan dy="4.5" font-size="14">x</tspan></text>
<rect x="60" y="480" width="165" height="27" fill="#f5e3de" stroke="#706a6a" stroke-width="1.6" stroke-dasharray="8 3.5"/>
<rect x="440.5" y="480.5" width="148" height="60" fill="#dfe0e3" stroke="#706a6a" stroke-width="1.6" stroke-dasharray="8 3.5"/>
<rect x="982.5" y="471" width="213.5" height="61" fill="#f4e2dd" stroke="#706a6a" stroke-width="1.6" stroke-dasharray="8 3.5"/>
<rect x="983" y="554.5" width="213" height="37.5" fill="#ebf5b9" stroke="#706a6a" stroke-width="1.6" stroke-dasharray="8 3.5"/>
<circle cx="94.0" cy="492.8" r="6" fill="url(#bT)"/><circle cx="143.5" cy="492.8" r="7" fill="url(#bR)"/><circle cx="198.0" cy="492.8" r="7" fill="url(#bR)"/><circle cx="70.6" cy="523.6" r="10" fill="url(#bY)"/><circle cx="118.8" cy="523.6" r="10" fill="url(#bY)"/><circle cx="167.0" cy="523.6" r="10" fill="url(#bY)"/><circle cx="47.7" cy="558.0" r="7" fill="url(#bG)"/><circle cx="99.6" cy="558.0" r="7" fill="url(#bG)"/><circle cx="152.9" cy="558.0" r="7" fill="url(#bG)"/><circle cx="97.8" cy="593.6" r="10" fill="url(#bY)"/><circle cx="146.0" cy="593.6" r="10" fill="url(#bY)"/><circle cx="193.9" cy="593.6" r="10" fill="url(#bY)"/><circle cx="63.0" cy="627.0" r="7" fill="url(#bG)"/><circle cx="115.2" cy="627.0" r="7" fill="url(#bG)"/><circle cx="168.0" cy="627.0" r="7" fill="url(#bG)"/><circle cx="47.0" cy="659.6" r="10" fill="url(#bY)"/><circle cx="95.6" cy="659.6" r="10" fill="url(#bY)"/><circle cx="143.8" cy="659.6" r="10" fill="url(#bY)"/><rect x="277" y="539.5" width="10" height="10" fill="#fff" opacity="0.8"/><rect x="300.5" y="542.3" width="10" height="10" fill="#fff" opacity="0.8"/><circle cx="282.0" cy="544.4" r="4" fill="url(#bL)"/><circle cx="305.5" cy="547.3" r="4" fill="url(#bL)"/><circle cx="251.0" cy="564.7" r="7" fill="url(#bR)"/><circle cx="263.8" cy="566.0" r="7" fill="url(#bR)"/><circle cx="292.4" cy="552.7" r="7" fill="url(#bR)"/><circle cx="323.6" cy="567.2" r="7" fill="url(#bR)"/><circle cx="397.0" cy="488.8" r="6" fill="url(#bT)"/><circle cx="397.0" cy="517.9" r="10" fill="url(#bY)"/><circle cx="374.0" cy="553.0" r="7" fill="url(#bG)"/><circle cx="426.0" cy="553.0" r="7" fill="url(#bG)"/><circle cx="479.0" cy="553.0" r="7" fill="url(#bG)"/><circle cx="423.5" cy="588.0" r="10" fill="url(#bY)"/><circle cx="471.7" cy="588.0" r="10" fill="url(#bY)"/><circle cx="520.4" cy="588.0" r="10" fill="url(#bY)"/><circle cx="389.0" cy="621.3" r="7" fill="url(#bG)"/><circle cx="441.3" cy="621.3" r="7" fill="url(#bG)"/><circle cx="494.2" cy="621.3" r="7" fill="url(#bG)"/><circle cx="373.7" cy="654.4" r="10" fill="url(#bY)"/><circle cx="421.6" cy="654.4" r="10" fill="url(#bY)"/><circle cx="470.0" cy="654.4" r="10" fill="url(#bY)"/><circle cx="454.0" cy="492.8" r="7" fill="url(#bR)"/><circle cx="467.7" cy="503.7" r="10" fill="url(#bY)"/><circle cx="487.0" cy="502.0" r="7" fill="url(#bR)"/><circle cx="515.0" cy="520.0" r="10" fill="url(#bY)"/><circle cx="529.5" cy="513.5" r="7" fill="url(#bR)"/><circle cx="506.6" cy="524.0" r="7" fill="url(#bR)"/><circle cx="678.0" cy="516.0" r="10.5" fill="url(#bB)"/><circle cx="726.3" cy="516.0" r="10.5" fill="url(#bB)"/><circle cx="774.2" cy="516.0" r="10.5" fill="url(#bB)"/><circle cx="678.0" cy="547.2" r="7" fill="url(#bR)"/><circle cx="726.0" cy="547.2" r="7" fill="url(#bR)"/><circle cx="774.2" cy="547.2" r="7" fill="url(#bR)"/><circle cx="653.3" cy="576.0" r="10" fill="url(#bY)"/><circle cx="701.6" cy="576.0" r="10" fill="url(#bY)"/><circle cx="750.0" cy="576.0" r="10" fill="url(#bY)"/><circle cx="630.0" cy="610.7" r="7" fill="url(#bG)"/><circle cx="682.7" cy="610.7" r="7" fill="url(#bG)"/><circle cx="736.0" cy="610.7" r="7" fill="url(#bG)"/><circle cx="679.8" cy="646.0" r="10" fill="url(#bY)"/><circle cx="728.0" cy="646.0" r="10" fill="url(#bY)"/><circle cx="776.7" cy="646.0" r="10" fill="url(#bY)"/><rect x="854.3" y="539.5" width="10" height="10" fill="#fff" opacity="0.8"/><rect x="877.8" y="542.3" width="10" height="10" fill="#fff" opacity="0.8"/><circle cx="859.3" cy="544.4" r="4" fill="url(#bL)"/><circle cx="882.8" cy="547.3" r="4" fill="url(#bL)"/><circle cx="828.3" cy="564.7" r="7" fill="url(#bR)"/><circle cx="841.1" cy="566.0" r="7" fill="url(#bR)"/><circle cx="869.7" cy="552.7" r="7" fill="url(#bR)"/><circle cx="900.9" cy="567.2" r="7" fill="url(#bR)"/><circle cx="1026.3" cy="489.2" r="7" fill="url(#bR)"/><circle cx="1075.0" cy="489.2" r="7" fill="url(#bR)"/><circle cx="1125.0" cy="489.2" r="7" fill="url(#bR)"/><circle cx="1001.7" cy="514.6" r="7" fill="url(#bR)"/><circle cx="1027.0" cy="514.6" r="10.5" fill="url(#bB)"/><circle cx="1048.8" cy="514.6" r="7" fill="url(#bR)"/><circle cx="1075.3" cy="514.6" r="10.5" fill="url(#bB)"/><circle cx="1099.6" cy="514.6" r="7" fill="url(#bR)"/><circle cx="1123.5" cy="514.6" r="10.5" fill="url(#bB)"/><circle cx="1147.8" cy="514.6" r="7" fill="url(#bR)"/><circle cx="1027.0" cy="544.3" r="7" fill="url(#bR)"/><circle cx="1075.3" cy="544.3" r="7" fill="url(#bR)"/><circle cx="1123.5" cy="544.3" r="7" fill="url(#bR)"/><circle cx="1002.4" cy="573.3" r="10" fill="url(#bY)"/><circle cx="1050.6" cy="573.3" r="10" fill="url(#bY)"/><circle cx="1098.9" cy="573.3" r="10" fill="url(#bY)"/><circle cx="979.2" cy="608.0" r="7" fill="url(#bG)"/><circle cx="1031.4" cy="608.0" r="7" fill="url(#bG)"/><circle cx="1085.0" cy="608.0" r="7" fill="url(#bG)"/><circle cx="1028.9" cy="643.3" r="10" fill="url(#bY)"/><circle cx="1077.0" cy="643.3" r="10" fill="url(#bY)"/><circle cx="1125.7" cy="643.3" r="10" fill="url(#bY)"/>
<path d="M238,585.2 L331,580 L331,573.3 L359,587.5 L331,602 L331,594.5 L238,589 Z" fill="url(#oarr)" stroke="#b8542a" stroke-width="1.1" stroke-linejoin="round"/>
<path d="M267,587.5 L335,584 L335,580 L351,587.5 L335,595 L335,591" fill="none" stroke="#a84a22" stroke-width="1" opacity="0.8" stroke-linejoin="round"/>
<path d="M242,586.5 L327,582" stroke="#ffd0b0" stroke-width="1.2" opacity="0.7"/>
<path d="M815,585.2 L908,580 L908,573.3 L936,587.5 L908,602 L908,594.5 L815,589 Z" fill="url(#oarr)" stroke="#b8542a" stroke-width="1.1" stroke-linejoin="round"/>
<path d="M844,587.5 L912,584 L912,580 L928,587.5 L912,595 L912,591" fill="none" stroke="#a84a22" stroke-width="1" opacity="0.8" stroke-linejoin="round"/>
<path d="M819,586.5 L904,582" stroke="#ffd0b0" stroke-width="1.2" opacity="0.7"/>
<text x="249" y="619.7" font-size="22" font-weight="bold" fill="#f6784a" textLength="91" lengthAdjust="spacingAndGlyphs" text-anchor="start" ><tspan font-style="italic">O</tspan> source</text>
<text x="826.5" y="619.5" font-size="22" font-weight="bold" fill="#f6784a" textLength="90.5" lengthAdjust="spacingAndGlyphs" text-anchor="start" ><tspan font-style="italic">O</tspan> source</text>
<circle cx="569.4" cy="522.6" r="15" fill="#f8d030"/>
<path d="M559.4,515.6 h6 M573.4,515.6 h6 M559.4,519.6 q3,-2 6,0 M573.4,519.6 q3,-2 6,0" stroke="#5a3a10" stroke-width="1.2" fill="none"/>
<rect x="560.4" y="519.6" width="3.5" height="17" fill="#58c4ec"/><rect x="574.9" y="519.6" width="3.5" height="17" fill="#58c4ec"/>
<ellipse cx="569.4" cy="527.6" rx="2" ry="3.5" fill="#e8501a"/>
<rect x="1147.3" y="557.6" width="30" height="30" fill="#f6f8e8"/>
<circle cx="1162.3" cy="572.6" r="13" fill="url(#smg)"/>
<path d="M1154.3,567.6 l5,2 l-4,1.5 M1170.3,567.6 l-5,2 l4,1.5" stroke="#222" stroke-width="1.2" fill="none"/>
<path d="M1155.3,574.6 Q1162.3,582.6 1169.3,574.6" stroke="#222" stroke-width="1.1" fill="none"/>
<ellipse cx="1154.3" cy="572.1" rx="3" ry="1.8" fill="#f89070"/><ellipse cx="1170.3" cy="572.1" rx="3" ry="1.8" fill="#f89070"/>
<text x="16.5" y="481.9" font-size="29" font-weight="bold" fill="#000" textLength="43" lengthAdjust="spacingAndGlyphs" text-anchor="start" >(b)</text>
<text x="607" y="486.1" font-size="30" font-weight="bold" fill="#000" textLength="41.5" lengthAdjust="spacingAndGlyphs" text-anchor="start" >(c)</text>
<text x="232" y="500.8" font-size="22" font-weight="bold" fill="#000" textLength="21.7" lengthAdjust="spacingAndGlyphs" text-anchor="start" >T<tspan dy="5" font-size="15">x</tspan></text>
<text x="540.1" y="502.8" font-size="24" font-weight="bold" fill="#000" textLength="45.6" lengthAdjust="spacingAndGlyphs" text-anchor="start" >TiO<tspan dy="5" font-size="15">2</tspan></text>
<text x="1137.7" y="497.5" font-size="24" font-weight="bold" fill="#000" textLength="60" lengthAdjust="spacingAndGlyphs" text-anchor="start" >Al<tspan dy="5" font-size="15">2</tspan><tspan dy="-5">O</tspan><tspan dy="5" font-size="15">3</tspan></text>
<text x="74.9" y="706.7" font-size="24" font-weight="bold" fill="#000" textLength="82" lengthAdjust="spacingAndGlyphs" text-anchor="start" >Ti<tspan dy="5.5" font-size="16.5">3</tspan><tspan dy="-5.5">C</tspan><tspan dy="5.5" font-size="16.5">2</tspan><tspan dy="-5.5">T</tspan><tspan dy="5.5" font-size="16.5">x</tspan></text>
<text x="669" y="712.5" font-size="24" font-weight="bold" fill="#000" textLength="104" lengthAdjust="spacingAndGlyphs" text-anchor="start" >i-Ti<tspan dy="5.5" font-size="16.5">3</tspan><tspan dy="-5.5">C</tspan><tspan dy="5.5" font-size="16.5">2</tspan><tspan dy="-5.5">T</tspan><tspan dy="5.5" font-size="16.5">x</tspan></text>
<text x="369.3" y="702" font-size="24" font-weight="bold" fill="#000" textLength="129.8" lengthAdjust="spacingAndGlyphs" text-anchor="start" >"Active"-Ti</text>
<text x="390.2" y="729.5" font-size="24" font-weight="bold" fill="#000" textLength="98.6" lengthAdjust="spacingAndGlyphs" text-anchor="start" >oxidated</text>
<text x="1005" y="702" font-size="24" font-weight="bold" fill="#000" textLength="128.5" lengthAdjust="spacingAndGlyphs" text-anchor="start" >"Active"-Ti</text>
<text x="1019" y="729.5" font-size="24" font-weight="bold" fill="#000" textLength="110.5" lengthAdjust="spacingAndGlyphs" text-anchor="start" >protected</text>
<rect x="33" y="758" width="38" height="43" fill="#fff"/><circle cx="51.3" cy="781.0" r="12" fill="url(#bY)"/>
<rect x="113" y="763" width="35" height="37" fill="#fff"/><circle cx="131.5" cy="781.7" r="12.4" fill="url(#bB)"/>
<circle cx="217.6" cy="784.7" r="8.8" fill="#ddd"/><circle cx="217.6" cy="784.7" r="8" fill="url(#bG)"/>
<rect x="285" y="766" width="32" height="35" fill="#fff"/><circle cx="301.4" cy="785.0" r="7.5" fill="url(#bT)"/>
<circle cx="383" cy="783.7" r="9.6" fill="#eee"/><circle cx="383.0" cy="783.7" r="8.8" fill="url(#bR)"/>
</svg></body></html>
